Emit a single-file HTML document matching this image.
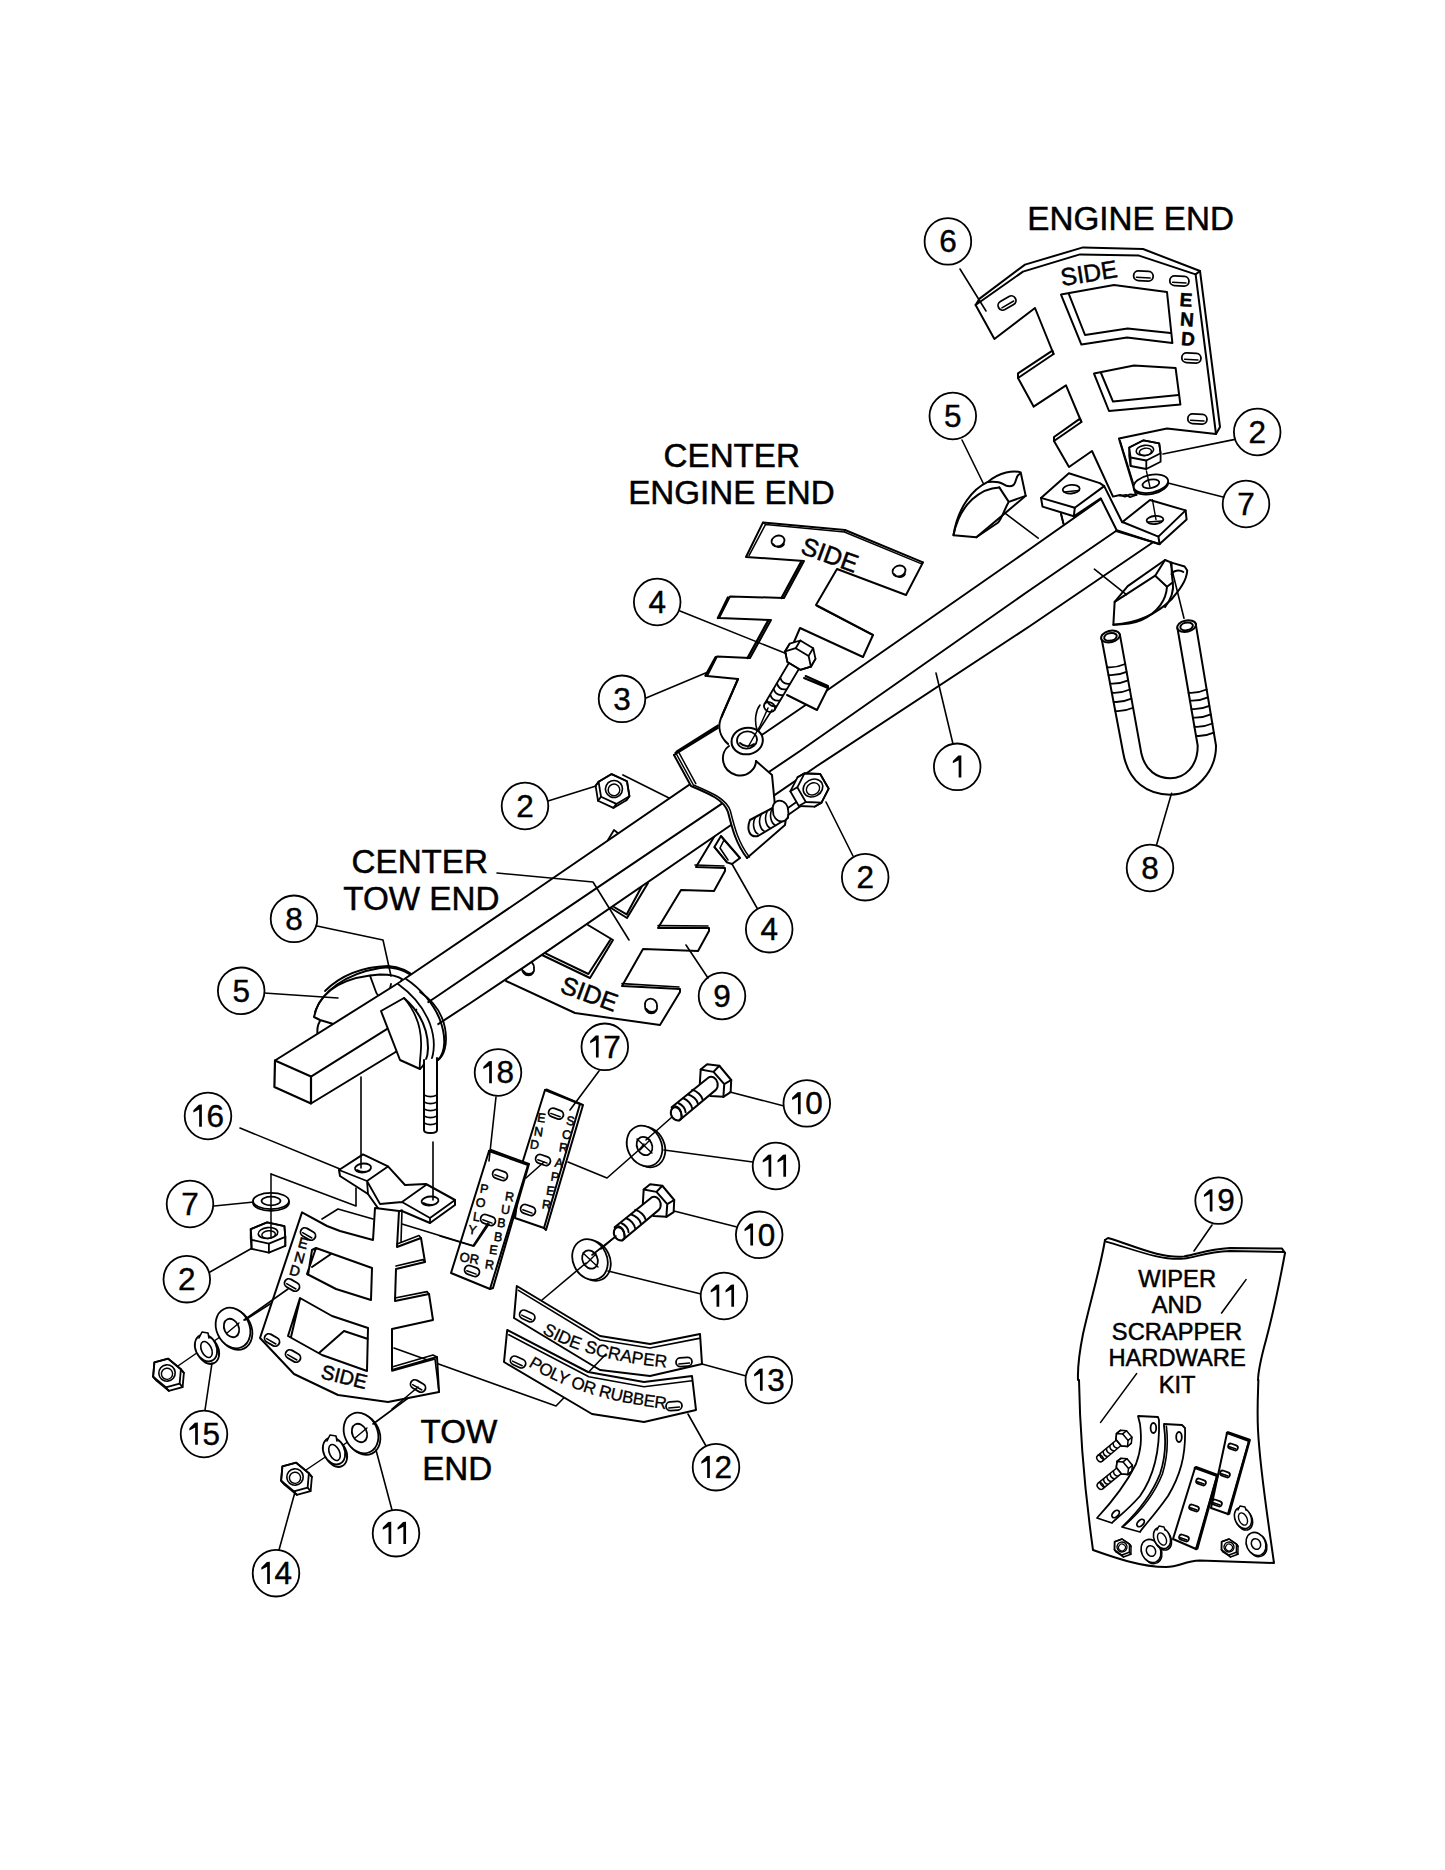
<!DOCTYPE html>
<html><head><meta charset="utf-8"><style>
html,body{margin:0;padding:0;background:#fff;}
svg{display:block;font-family:"Liberation Sans",sans-serif;}
</style></head><body>
<svg width="1445" height="1870" viewBox="0 0 1445 1870">
<path transform="translate(470 820) scale(0.200000)" d="M180,805 L525,965 L950,1025 L1050,860 L1050,845 L760,830 L865,645 L1140,655 L1195,555 L1195,540 L940,540 L1055,350 L1220,355 L1275,255 L1275,240 L1130,235 L1235,60" fill="none" stroke="#000" stroke-width="2.0" vector-effect="non-scaling-stroke" stroke-linejoin="round" stroke-linecap="round"/>
<path transform="translate(470 820) scale(0.200000)" d="M760,818 L1045,835 M940,528 L1190,530 M1125,225 L1270,230" fill="none" stroke="#000" stroke-width="1.6" vector-effect="non-scaling-stroke" stroke-linejoin="round" stroke-linecap="round"/>
<path transform="translate(470 820) scale(0.200000)" d="M360,675 L600,790 L715,600 L590,525 M380,668 L592,770 L700,602" fill="none" stroke="#000" stroke-width="2.0" vector-effect="non-scaling-stroke" stroke-linejoin="round" stroke-linecap="round"/>
<path transform="translate(470 820) scale(0.200000)" d="M705,440 L785,490 L890,315 M720,435 L783,472 L860,330" fill="none" stroke="#000" stroke-width="2.0" vector-effect="non-scaling-stroke" stroke-linejoin="round" stroke-linecap="round"/>
<path transform="translate(470 820) scale(0.200000)" d="M875,930 a30,33 -20 1,0 60,0 a30,33 -20 1,0 -60,0 M882,945 C895,965 925,965 935,945" fill="none" stroke="#000" stroke-width="1.8" vector-effect="non-scaling-stroke" stroke-linejoin="round" stroke-linecap="round"/>
<path transform="translate(470 820) scale(0.200000)" d="M260,740 a30,33 -20 1,0 60,0 a30,33 -20 1,0 -60,0 M267,755 C280,775 310,775 320,755" fill="none" stroke="#000" stroke-width="1.8" vector-effect="non-scaling-stroke" stroke-linejoin="round" stroke-linecap="round"/>
<path transform="translate(470 820) scale(0.200000)" d="M690,100 L720,50 L745,70" fill="none" stroke="#000" stroke-width="1.8" vector-effect="non-scaling-stroke" stroke-linejoin="round" stroke-linecap="round"/>
<text x="559.0" y="992.0" font-size="25" text-anchor="start" font-weight="normal" stroke="#000" stroke-width="0.5" transform="rotate(20 559.0 992.0)">SIDE</text>
<path transform="translate(200 900) scale(0.200000)" d="M570,585 C590,480 680,400 850,378 L900,372 C950,372 990,380 1010,395 L980,470 L700,630 L600,600 Z" fill="#fff" stroke="#000" stroke-width="2.0" vector-effect="non-scaling-stroke" stroke-linejoin="round" stroke-linecap="round"/>
<path transform="translate(200 900) scale(0.200000)" d="M600,605 C585,630 585,660 590,680" fill="none" stroke="#000" stroke-width="2.0" vector-effect="non-scaling-stroke" stroke-linejoin="round" stroke-linecap="round"/>
<path transform="translate(200 900) scale(0.200000)" d="M850,378 L880,460 C890,490 930,490 945,465 L955,420" fill="none" stroke="#000" stroke-width="1.8" vector-effect="non-scaling-stroke" stroke-linejoin="round" stroke-linecap="round"/>
<path transform="translate(200 900) scale(0.200000)" d="M575,560 C610,460 720,370 900,340 C1000,330 1060,370 1100,420" fill="none" stroke="#000" stroke-width="1.8" vector-effect="non-scaling-stroke" stroke-linejoin="round" stroke-linecap="round"/>
<path transform="translate(200 900) scale(0.200000)" d="M625,455 C700,380 800,335 940,330 C1000,335 1050,360 1080,390" fill="none" stroke="#000" stroke-width="1.8" vector-effect="non-scaling-stroke" stroke-linejoin="round" stroke-linecap="round"/>
<polygon points="275,1060.5 400,982 524,898 829,689 1030,549 1101,499 1152,543 1030,626 817,766 524,967.1 469.7,1003.5 394,1053 311,1103.5" fill="#fff" stroke="#000" stroke-width="0" stroke-linejoin="round" stroke-linecap="round"/>
<polyline points="275,1060.5 400,982 524,898 829,689 1030,549 1101,499" fill="none" stroke="#000" stroke-width="2.0" stroke-linejoin="round" stroke-linecap="round"/>
<polyline points="311,1076.6 385.6,1029.8 433.8,998.5 524,937.2 800,751 1030,590 1116,531" fill="none" stroke="#000" stroke-width="2.0" stroke-linejoin="round" stroke-linecap="round"/>
<polyline points="311,1103.5 394,1053 469.7,1003.5 524,967.1 817,766 1030,626 1152,543" fill="none" stroke="#000" stroke-width="2.0" stroke-linejoin="round" stroke-linecap="round"/>
<polyline points="275,1060.5 311,1076.6 311,1103.5 274.4,1087 275,1060.5" fill="none" stroke="#000" stroke-width="2.2" stroke-linejoin="round" stroke-linecap="round"/>
<polygon points="975.6,305.0 1023.0,271.6 1080.0,254.4 1139.0,255.6 1195.6,274.4 1216.0,434.0 1167.0,428.6 1119.0,438.6 1136.0,495.0 1130.0,494.4 1125.0,496.6 1120.0,495.0 1113.0,496.6 1092.0,451.0 1069.0,467.0 1054.0,441.0 1081.4,422.0 1066.0,385.4 1033.6,406.6 1018.0,378.0 1053.6,354.0 1035.0,308.0 994.4,339.0" fill="#fff" stroke="#000" stroke-width="2.0" stroke-linejoin="round" stroke-linecap="round"/>
<polyline points="975.6,305.0 979.6,298.6 1025.0,264.6 1083.0,247.4 1143.0,249.0 1200.0,271.0 1220.0,427.0 1216.0,434.0" fill="none" stroke="#000" stroke-width="2.0" stroke-linejoin="round" stroke-linecap="round"/>
<polyline points="1195.6,274.4 1200.0,271.0" fill="none" stroke="#000" stroke-width="2.0" stroke-linejoin="round" stroke-linecap="round"/>
<polyline points="1018.0,378.0 1018.0,373.4 1052.4,350.6 1053.6,354.0" fill="none" stroke="#000" stroke-width="2.0" stroke-linejoin="round" stroke-linecap="round"/>
<polyline points="1054.0,441.0 1054.0,437.0 1080.0,418.6 1081.4,422.0" fill="none" stroke="#000" stroke-width="2.0" stroke-linejoin="round" stroke-linecap="round"/>
<polygon points="1061.0,294.6 1114.0,285.0 1167.0,292.0 1172.4,343.0 1127.0,337.6 1081.4,344.6" fill="none" stroke="#000" stroke-width="2.0" stroke-linejoin="round" stroke-linecap="round"/>
<polyline points="1069.0,294.4 1085.0,335.0 1127.6,328.6 1170.6,333.0" fill="none" stroke="#000" stroke-width="2.0" stroke-linejoin="round" stroke-linecap="round"/>
<polygon points="1094.0,373.6 1134.0,365.4 1175.6,368.0 1180.4,404.6 1109.0,411.0" fill="none" stroke="#000" stroke-width="2.0" stroke-linejoin="round" stroke-linecap="round"/>
<polyline points="1101.0,373.0 1113.0,401.6 1178.6,395.0" fill="none" stroke="#000" stroke-width="2.0" stroke-linejoin="round" stroke-linecap="round"/>
<rect x="997.4" y="298.4" width="19.2" height="9.2" rx="4.6" ry="4.6" transform="rotate(-30 1007.0 303.0)" fill="none" stroke="#000" stroke-width="1.8"/>
<line x1="1001.9" y1="307.8" x2="1013.7" y2="301.0" stroke="#000" stroke-width="1.5" stroke-linecap="round"/>
<rect x="1133.6" y="271.2" width="19.6" height="9.6" rx="4.8" ry="4.8" transform="rotate(3 1143.4 276.0)" fill="none" stroke="#000" stroke-width="1.8"/>
<line x1="1136.4" y1="277.3" x2="1150.2" y2="278.0" stroke="#000" stroke-width="1.5" stroke-linecap="round"/>
<rect x="1169.8" y="276.2" width="19.2" height="9.6" rx="4.8" ry="4.8" transform="rotate(3 1179.4 281.0)" fill="none" stroke="#000" stroke-width="1.8"/>
<line x1="1172.6" y1="282.3" x2="1186.0" y2="283.0" stroke="#000" stroke-width="1.5" stroke-linecap="round"/>
<rect x="1181.8" y="353.2" width="19.2" height="9.6" rx="4.8" ry="4.8" transform="rotate(3 1191.4 358.0)" fill="none" stroke="#000" stroke-width="1.8"/>
<line x1="1184.6" y1="359.3" x2="1198.0" y2="360.0" stroke="#000" stroke-width="1.5" stroke-linecap="round"/>
<rect x="1187.8" y="414.2" width="19.2" height="9.6" rx="4.8" ry="4.8" transform="rotate(3 1197.4 419.0)" fill="none" stroke="#000" stroke-width="1.8"/>
<line x1="1190.6" y1="420.3" x2="1204.0" y2="421.0" stroke="#000" stroke-width="1.5" stroke-linecap="round"/>
<text x="1062.0" y="286.0" font-size="24.5" text-anchor="start" font-weight="normal" stroke="#000" stroke-width="0.5" transform="rotate(-9 1062.0 286.0)">SIDE</text>
<text x="1185.6" y="306.4" font-size="19" text-anchor="middle" font-weight="bold" stroke="#000" stroke-width="0.5" transform="rotate(4 1185.6 306.4)">E</text>
<text x="1186.6" y="326.0" font-size="19" text-anchor="middle" font-weight="bold" stroke="#000" stroke-width="0.5" transform="rotate(4 1186.6 326.0)">N</text>
<text x="1187.6" y="345.6" font-size="19" text-anchor="middle" font-weight="bold" stroke="#000" stroke-width="0.5" transform="rotate(4 1187.6 345.6)">D</text>
<polyline points="960.0,269.0 986.0,311.0" fill="none" stroke="#000" stroke-width="1.6" stroke-linejoin="round" stroke-linecap="round"/>
<polyline points="962.0,440.0 989.0,495.0" fill="none" stroke="#000" stroke-width="1.6" stroke-linejoin="round" stroke-linecap="round"/>
<polyline points="1163.0,454.0 1235.0,439.4" fill="none" stroke="#000" stroke-width="1.6" stroke-linejoin="round" stroke-linecap="round"/>
<polyline points="1168.0,483.0 1223.0,497.0" fill="none" stroke="#000" stroke-width="1.6" stroke-linejoin="round" stroke-linecap="round"/>
<polygon points="1041.0,497.9 1068.9,473.2 1099.8,483.1 1104.2,486.1 1074.8,507.8" fill="#fff" stroke="#000" stroke-width="2.0" stroke-linejoin="round" stroke-linecap="round"/>
<polyline points="1041.0,497.9 1042.5,506.6 1073.8,516.3 1100.8,498.4 1116.7,530.3 1159.5,544.2" fill="none" stroke="#000" stroke-width="2.0" stroke-linejoin="round" stroke-linecap="round"/>
<polyline points="1073.8,516.3 1074.8,507.8" fill="none" stroke="#000" stroke-width="2.0" stroke-linejoin="round" stroke-linecap="round"/>
<polyline points="1060.9,513.8 1063.4,523.8" fill="none" stroke="#000" stroke-width="1.8" stroke-linejoin="round" stroke-linecap="round"/>
<polyline points="1104.2,486.1 1122.2,522.3" fill="none" stroke="#000" stroke-width="2.0" stroke-linejoin="round" stroke-linecap="round"/>
<ellipse cx="1071.2" cy="489.2" rx="8.5" ry="4.3" transform="rotate(-5 1071.2 489.2)" fill="none" stroke="#000" stroke-width="1.8"/>
<line x1="1063.9" y1="491.9" x2="1078.8" y2="490.4" stroke="#000" stroke-width="1.5" stroke-linecap="round"/>
<polygon points="1122.4,522.0 1150.0,500.0 1185.6,510.4 1158.4,536.6" fill="#fff" stroke="#000" stroke-width="2.0" stroke-linejoin="round" stroke-linecap="round"/>
<polyline points="1158.4,536.6 1159.6,544.0 1186.6,519.6 1185.6,510.4" fill="none" stroke="#000" stroke-width="2.0" stroke-linejoin="round" stroke-linecap="round"/>
<polyline points="1116.0,531.0 1159.6,544.0" fill="none" stroke="#000" stroke-width="2.0" stroke-linejoin="round" stroke-linecap="round"/>
<ellipse cx="1155.0" cy="520.0" rx="8.4" ry="4.0" transform="rotate(-5 1155.0 520.0)" fill="none" stroke="#000" stroke-width="1.8"/>
<line x1="1148.0" y1="522.0" x2="1162.0" y2="521.0" stroke="#000" stroke-width="1.5" stroke-linecap="round"/>
<line x1="1152.4" y1="499.6" x2="1156.0" y2="519.6" stroke="#000" stroke-width="1.4" stroke-linecap="round"/>
<polygon points="1129.2,447.5 1143.5,440.3 1159.2,443.3 1160.6,453.3 1160.6,461.8 1146.3,469.0 1130.6,466.0 1129.2,456.0" fill="#fff" stroke="#000" stroke-width="1.8" stroke-linejoin="round" stroke-linecap="round"/>
<polygon points="1160.6,453.3 1146.3,460.5 1130.6,457.5 1129.2,447.5 1143.5,440.3 1159.2,443.3" fill="none" stroke="#000" stroke-width="1.8" stroke-linejoin="round" stroke-linecap="round"/>
<line x1="1146.3" y1="460.5" x2="1146.3" y2="469.0" stroke="#000" stroke-width="1.8" stroke-linecap="round"/>
<line x1="1130.6" y1="457.5" x2="1130.6" y2="466.0" stroke="#000" stroke-width="1.8" stroke-linecap="round"/>
<ellipse cx="1144.9" cy="450.4" rx="8.8" ry="5.1" transform="rotate(-8 1144.9 450.4)" fill="none" stroke="#000" stroke-width="1.62"/>
<ellipse cx="1145.4" cy="451.8" rx="6.1" ry="3.6" transform="rotate(-8 1145.4 451.8)" fill="none" stroke="#000" stroke-width="1.4400000000000002"/>
<ellipse cx="1150.9" cy="485.3" rx="17.5" ry="8.8" transform="rotate(-12 1150.9 485.3)" fill="#fff" stroke="#000" stroke-width="1.8"/>
<ellipse cx="1150.9" cy="483.8" rx="17.5" ry="8.8" transform="rotate(-12 1150.9 483.8)" fill="#fff" stroke="#000" stroke-width="1.8"/>
<ellipse cx="1150.9" cy="483.8" rx="8.5" ry="4.2" transform="rotate(-12 1150.9 483.8)" fill="none" stroke="#000" stroke-width="1.8"/>
<polyline points="1146.4,470.9 1149.9,486.8" fill="none" stroke="#000" stroke-width="1.4" stroke-linejoin="round" stroke-linecap="round"/>
<polyline points="1120.0,441.0 1133.0,482.8" fill="none" stroke="#000" stroke-width="1.8" stroke-linejoin="round" stroke-linecap="round"/>
<polyline points="1120.0,495.8 1126.0,494.8 1130.0,497.3 1136.9,494.8" fill="none" stroke="#000" stroke-width="1.6" stroke-linejoin="round" stroke-linecap="round"/>
<path transform="translate(940 455) scale(0.099651)" d="M135,805 L365,825 L860,410 L810,175 C740,150 600,170 480,270 C330,340 180,520 135,805 Z" fill="#fff" stroke="#000" stroke-width="2.0" vector-effect="non-scaling-stroke" stroke-linejoin="round" stroke-linecap="round"/>
<path transform="translate(940 455) scale(0.099651)" d="M595,325 C420,330 200,480 135,805" fill="none" stroke="#000" stroke-width="2.0" vector-effect="non-scaling-stroke" stroke-linejoin="round" stroke-linecap="round"/>
<path transform="translate(940 455) scale(0.099651)" d="M595,325 L690,470 L860,410 M690,470 C640,560 620,640 580,680 L365,825" fill="none" stroke="#000" stroke-width="2.0" vector-effect="non-scaling-stroke" stroke-linejoin="round" stroke-linecap="round"/>
<path transform="translate(940 455) scale(0.099651)" d="M480,270 C540,265 600,270 630,290 C660,310 700,330 740,300 C770,270 760,200 800,190" fill="none" stroke="#000" stroke-width="2.0" vector-effect="non-scaling-stroke" stroke-linejoin="round" stroke-linecap="round"/>
<path transform="translate(940 455) scale(0.099651)" d="M655,585 L985,835" fill="none" stroke="#000" stroke-width="1.6" vector-effect="non-scaling-stroke" stroke-linejoin="round" stroke-linecap="round"/>
<path transform="translate(940 455) scale(0.099651)" d="M1215,590 L1240,690" fill="none" stroke="#000" stroke-width="1.8" vector-effect="non-scaling-stroke" stroke-linejoin="round" stroke-linecap="round"/>
<path transform="translate(1080 560) scale(0.130796)" d="M255,495 L265,320 L365,200 L650,0 L700,20 L800,50 L820,80 C815,160 760,230 700,300 C620,380 480,480 255,495 Z" fill="#fff" stroke="#000" stroke-width="2.0" vector-effect="non-scaling-stroke" stroke-linejoin="round" stroke-linecap="round"/>
<path transform="translate(1080 560) scale(0.130796)" d="M265,320 L575,120 L665,205 C660,300 600,400 470,460 C400,490 320,495 255,495" fill="none" stroke="#000" stroke-width="2.0" vector-effect="non-scaling-stroke" stroke-linejoin="round" stroke-linecap="round"/>
<path transform="translate(1080 560) scale(0.130796)" d="M575,120 L650,0 M665,205 L710,170 C700,120 700,60 700,20 M710,170 C720,250 690,310 650,360" fill="none" stroke="#000" stroke-width="2.0" vector-effect="non-scaling-stroke" stroke-linejoin="round" stroke-linecap="round"/>
<path transform="translate(1080 560) scale(0.130796)" d="M700,110 C710,80 760,70 790,92" fill="none" stroke="#000" stroke-width="2.0" vector-effect="non-scaling-stroke" stroke-linejoin="round" stroke-linecap="round"/>
<path transform="translate(1080 560) scale(0.130796)" d="M110,70 L355,265" fill="none" stroke="#000" stroke-width="1.6" vector-effect="non-scaling-stroke" stroke-linejoin="round" stroke-linecap="round"/>
<path transform="translate(1080 560) scale(0.130796)" d="M690,20 L795,445" fill="none" stroke="#000" stroke-width="1.6" vector-effect="non-scaling-stroke" stroke-linejoin="round" stroke-linecap="round"/>
<path transform="translate(1080 560) scale(0.130796)" d="M165,600 L330,1474 C370,1700 520,1794 690,1794 C880,1794 1040,1620 1040,1420 L885,490" fill="none" stroke="#000" stroke-width="2.0" vector-effect="non-scaling-stroke" stroke-linejoin="round" stroke-linecap="round"/>
<path transform="translate(1080 560) scale(0.130796)" d="M305,570 L470,1484 C500,1610 590,1669 690,1669 C800,1669 900,1580 900,1420 L745,520" fill="none" stroke="#000" stroke-width="2.0" vector-effect="non-scaling-stroke" stroke-linejoin="round" stroke-linecap="round"/>
<path transform="translate(1080 560) scale(0.130796)" d="M163,585 a70,42 -12 1,0 140,0 a70,42 -12 1,0 -140,0 Z" fill="#fff" stroke="#000" stroke-width="2.0" vector-effect="non-scaling-stroke" stroke-linejoin="round" stroke-linecap="round"/>
<path transform="translate(1080 560) scale(0.130796)" d="M186,588 a47,28 -12 1,0 94,0 a47,28 -12 1,0 -94,0 Z" fill="none" stroke="#000" stroke-width="2.0" vector-effect="non-scaling-stroke" stroke-linejoin="round" stroke-linecap="round"/>
<path transform="translate(1080 560) scale(0.130796)" d="M745,505 a70,42 -12 1,0 140,0 a70,42 -12 1,0 -140,0 Z" fill="#fff" stroke="#000" stroke-width="2.0" vector-effect="non-scaling-stroke" stroke-linejoin="round" stroke-linecap="round"/>
<path transform="translate(1080 560) scale(0.130796)" d="M768,508 a47,28 -12 1,0 94,0 a47,28 -12 1,0 -94,0 Z" fill="none" stroke="#000" stroke-width="2.0" vector-effect="non-scaling-stroke" stroke-linejoin="round" stroke-linecap="round"/>
<path transform="translate(1080 560) scale(0.130796)" d="M207,820 Q276,825 346,795 M218,880 Q287,885 356,855 M230,945 Q299,950 368,920 M243,1015 Q312,1020 381,990 M257,1085 Q325,1090 393,1060 M270,1155 Q338,1160 406,1130 M830,1015 Q899,1020 968,990 M841,1075 Q909,1080 978,1050 M852,1140 Q920,1145 989,1115 M863,1205 Q931,1210 1000,1180 M875,1275 Q943,1280 1012,1250 M887,1345 Q955,1350 1023,1320 " fill="none" stroke="#000" stroke-width="1.8" vector-effect="non-scaling-stroke" stroke-linejoin="round" stroke-linecap="round"/>
<path transform="translate(1080 690) scale(0.130796)" d="M585,1185 L700,790" fill="none" stroke="#000" stroke-width="1.6" vector-effect="non-scaling-stroke" stroke-linejoin="round" stroke-linecap="round"/>
<path transform="translate(580 700) scale(0.200000)" d="M215,375 L445,490" fill="none" stroke="#000" stroke-width="1.8" vector-effect="non-scaling-stroke" stroke-linejoin="round" stroke-linecap="round"/>
<polygon points="595.6,785.8 598.6,781.8 611.6,774.1 627.0,781.3 629.4,796.2 626.4,800.2 613.4,807.9 598.0,800.7" fill="#fff" stroke="#000" stroke-width="1.8" stroke-linejoin="round" stroke-linecap="round"/>
<polygon points="629.4,796.2 616.4,803.9 601.0,796.7 598.6,781.8 611.6,774.1 627.0,781.3" fill="none" stroke="#000" stroke-width="1.8" stroke-linejoin="round" stroke-linecap="round"/>
<line x1="629.4" y1="796.2" x2="626.4" y2="800.2" stroke="#000" stroke-width="1.8" stroke-linecap="round"/>
<line x1="616.4" y1="803.9" x2="613.4" y2="807.9" stroke="#000" stroke-width="1.8" stroke-linecap="round"/>
<line x1="601.0" y1="796.7" x2="598.0" y2="800.7" stroke="#000" stroke-width="1.8" stroke-linecap="round"/>
<line x1="598.6" y1="781.8" x2="595.6" y2="785.8" stroke="#000" stroke-width="1.8" stroke-linecap="round"/>
<ellipse cx="614" cy="789" rx="8.5" ry="8.5" transform="rotate(25 614 789)" fill="none" stroke="#000" stroke-width="1.62"/>
<ellipse cx="614" cy="789.9" rx="5.8" ry="5.8" transform="rotate(25 614 789.9)" fill="none" stroke="#000" stroke-width="1.4400000000000002"/>
<polyline points="548,801 596,786" fill="none" stroke="#000" stroke-width="1.6" stroke-linejoin="round" stroke-linecap="round"/>
<path transform="translate(680 510) scale(0.200000)" d="M330,235 L415,62 L825,100 L1215,262 L1130,425 L785,295 L680,475 L965,625 L915,735 L600,590 L570,660 M330,235 L620,255 L520,440 L250,432 L195,540 L455,550 L350,740 L185,732 L135,830 L290,845 L205,1040 C190,1080 195,1130 240,1170" fill="none" stroke="#000" stroke-width="2.0" vector-effect="non-scaling-stroke" stroke-linejoin="round" stroke-linecap="round"/>
<path transform="translate(680 510) scale(0.200000)" d="M345,228 L428,72 L822,110 L1205,268 M415,62 L428,72 M825,100 L822,110 M1215,262 L1205,268" fill="none" stroke="#000" stroke-width="1.5" vector-effect="non-scaling-stroke" stroke-linejoin="round" stroke-linecap="round"/>
<path transform="translate(680 510) scale(0.200000)" d="M605,262 L508,440 M440,555 L338,740 M240,438 L190,540 M178,737 L128,828" fill="none" stroke="#000" stroke-width="2.5" vector-effect="non-scaling-stroke" stroke-linejoin="round" stroke-linecap="round"/>
<path transform="translate(680 510) scale(0.200000)" d="M620,840 L740,890 L685,1000 L535,925 Z" fill="#fff" stroke="#000" stroke-width="0" vector-effect="non-scaling-stroke" stroke-linejoin="round" stroke-linecap="round"/>
<path transform="translate(680 510) scale(0.200000)" d="M620,840 L740,890 L685,1000 L535,925 M628,830 L740,880 L740,890" fill="none" stroke="#000" stroke-width="2.0" vector-effect="non-scaling-stroke" stroke-linejoin="round" stroke-linecap="round"/>
<path transform="translate(680 510) scale(0.200000)" d="M685,480 L955,620 L965,625" fill="none" stroke="#000" stroke-width="1.5" vector-effect="non-scaling-stroke" stroke-linejoin="round" stroke-linecap="round"/>
<path transform="translate(680 510) scale(0.200000)" d="M458,155 a32,26 -20 1,0 64,0 a32,26 -20 1,0 -64,0 Z M465,170 C480,190 510,190 520,170" fill="none" stroke="#000" stroke-width="1.8" vector-effect="non-scaling-stroke" stroke-linejoin="round" stroke-linecap="round"/>
<path transform="translate(680 510) scale(0.200000)" d="M1063,305 a32,26 -20 1,0 64,0 a32,26 -20 1,0 -64,0 Z M1070,320 C1085,340 1115,340 1125,320" fill="none" stroke="#000" stroke-width="1.8" vector-effect="non-scaling-stroke" stroke-linejoin="round" stroke-linecap="round"/>
<text x="799.6" y="553.0" font-size="25" text-anchor="start" font-weight="normal" stroke="#000" stroke-width="0.5" transform="rotate(20 799.6 553.0)">SIDE</text>
<polygon points="792.0,657.8 764.5,704.0 774.5,710.0 802.0,663.7" fill="#fff" stroke="#000" stroke-width="1.8" stroke-linejoin="round" stroke-linecap="round"/>
<ellipse cx="769.5" cy="707" rx="5.8" ry="4.6" transform="rotate(-149.3002774491856 769.5 707)" fill="#fff" stroke="#000" stroke-width="1.8"/>
<path d="M780.2,677.6 Q782.5,685.1 790.2,683.6" fill="none" stroke="#000" stroke-width="1.8"/>
<path d="M776.9,683.2 Q779.2,690.7 786.8,689.2" fill="none" stroke="#000" stroke-width="1.8"/>
<path d="M773.5,688.8 Q775.9,696.3 783.5,694.8" fill="none" stroke="#000" stroke-width="1.8"/>
<path d="M770.2,694.4 Q772.5,701.9 780.2,700.4" fill="none" stroke="#000" stroke-width="1.8"/>
<path d="M766.9,700.0 Q769.2,707.5 776.9,706.0" fill="none" stroke="#000" stroke-width="1.8"/>
<polygon points="785.1,651.3 789.7,643.6 800.3,640.5 813.2,648.2 815.5,658.9 810.9,666.7 800.3,669.8 787.4,662.1" fill="#fff" stroke="#000" stroke-width="1.8" stroke-linejoin="round" stroke-linecap="round"/>
<polygon points="785.1,651.3 795.7,648.2 808.6,655.9 810.9,666.7 800.3,669.8 787.4,662.1" fill="none" stroke="#000" stroke-width="1.8" stroke-linejoin="round" stroke-linecap="round"/>
<line x1="785.1" y1="651.3" x2="789.7" y2="643.6" stroke="#000" stroke-width="1.8" stroke-linecap="round"/>
<line x1="795.7" y1="648.2" x2="800.3" y2="640.5" stroke="#000" stroke-width="1.8" stroke-linecap="round"/>
<line x1="808.6" y1="655.9" x2="813.2" y2="648.2" stroke="#000" stroke-width="1.8" stroke-linecap="round"/>
<line x1="810.9" y1="666.7" x2="815.5" y2="658.9" stroke="#000" stroke-width="1.8" stroke-linecap="round"/>
<path transform="translate(680 510) scale(0.200000)" d="M460,1000 L340,1185 M400,975 C380,1000 370,1050 385,1100" fill="none" stroke="#000" stroke-width="1.6" vector-effect="non-scaling-stroke" stroke-linejoin="round" stroke-linecap="round"/>
<path transform="translate(680 510) scale(0.200000)" d="M0,505 L530,718" fill="none" stroke="#000" stroke-width="1.6" vector-effect="non-scaling-stroke" stroke-linejoin="round" stroke-linecap="round"/>
<path transform="translate(680 510) scale(0.200000)" d="M1280,815 L1365,1170" fill="none" stroke="#000" stroke-width="1.6" vector-effect="non-scaling-stroke" stroke-linejoin="round" stroke-linecap="round"/>
<path transform="translate(580 700) scale(0.200000)" d="M470,275 L555,430 C650,470 720,500 740,560 C760,640 780,720 835,790 L1025,625 L1030,590 L975,530 L960,375 L880,305 L745,230 L700,60 L690,140 Z" fill="#fff" stroke="#000" stroke-width="0" vector-effect="non-scaling-stroke" stroke-linejoin="round" stroke-linecap="round"/>
<path transform="translate(580 700) scale(0.200000)" d="M470,275 L555,430 C650,470 720,500 740,560 C760,640 780,720 835,790" fill="none" stroke="#000" stroke-width="2.0" vector-effect="non-scaling-stroke" stroke-linejoin="round" stroke-linecap="round"/>
<path transform="translate(580 700) scale(0.200000)" d="M482,270 L567,425 C662,465 732,495 752,555 C772,635 792,715 847,785" fill="none" stroke="#000" stroke-width="1.5" vector-effect="non-scaling-stroke" stroke-linejoin="round" stroke-linecap="round"/>
<path transform="translate(580 700) scale(0.200000)" d="M494,262 L579,418" fill="none" stroke="#000" stroke-width="1.5" vector-effect="non-scaling-stroke" stroke-linejoin="round" stroke-linecap="round"/>
<path transform="translate(580 700) scale(0.200000)" d="M470,275 L690,140 M476,265 L690,133 M482,257 L690,126" fill="none" stroke="#000" stroke-width="1.8" vector-effect="non-scaling-stroke" stroke-linejoin="round" stroke-linecap="round"/>
<path transform="translate(580 700) scale(0.200000)" d="M880,305 L960,375 L975,530" fill="none" stroke="#000" stroke-width="2.0" vector-effect="non-scaling-stroke" stroke-linejoin="round" stroke-linecap="round"/>
<path transform="translate(580 700) scale(0.200000)" d="M835,790 L1025,625 L1030,590" fill="none" stroke="#000" stroke-width="2.0" vector-effect="non-scaling-stroke" stroke-linejoin="round" stroke-linecap="round"/>
<path transform="translate(580 700) scale(0.200000)" d="M672,735 L705,680 L800,790 L760,820 L735,812 Z" fill="#fff" stroke="#000" stroke-width="2.0" vector-effect="non-scaling-stroke" stroke-linejoin="round" stroke-linecap="round"/>
<path transform="translate(580 700) scale(0.200000)" d="M672,735 L735,812 M705,680 L720,700 L800,790 M720,700 L700,740 L740,800" fill="none" stroke="#000" stroke-width="1.6" vector-effect="non-scaling-stroke" stroke-linejoin="round" stroke-linecap="round"/>
<path transform="translate(580 700) scale(0.200000)" d="M745,230 C700,260 700,350 780,375 C840,390 880,340 880,305" fill="#fff" stroke="#000" stroke-width="2.0" vector-effect="non-scaling-stroke" stroke-linejoin="round" stroke-linecap="round"/>
<path transform="translate(580 700) scale(0.200000)" d="M758,205 a78,66 -10 1,0 156,0 a78,66 -10 1,0 -156,0 Z" fill="#fff" stroke="#000" stroke-width="2.0" vector-effect="non-scaling-stroke" stroke-linejoin="round" stroke-linecap="round"/>
<path transform="translate(580 700) scale(0.200000)" d="M785,200 a50,43 -10 1,0 100,0 a50,43 -10 1,0 -100,0 Z M800,215 C820,235 850,235 870,220" fill="none" stroke="#000" stroke-width="1.8" vector-effect="non-scaling-stroke" stroke-linejoin="round" stroke-linecap="round"/>
<path transform="translate(580 700) scale(0.200000)" d="M840,235 L900,130 L940,40" fill="none" stroke="#000" stroke-width="1.5" vector-effect="non-scaling-stroke" stroke-linejoin="round" stroke-linecap="round"/>
<path transform="translate(580 700) scale(0.200000)" d="M850,600 L990,525 L1030,560 L1040,590 L890,680 C850,690 830,650 850,600 Z" fill="#fff" stroke="#000" stroke-width="2.0" vector-effect="non-scaling-stroke" stroke-linejoin="round" stroke-linecap="round"/>
<path transform="translate(580 700) scale(0.200000)" d="M965,555 a38,45 -20 1,0 76,0 a38,45 -20 1,0 -76,0 Z" fill="#fff" stroke="#000" stroke-width="1.8" vector-effect="non-scaling-stroke" stroke-linejoin="round" stroke-linecap="round"/>
<path transform="translate(580 700) scale(0.200000)" d="M875,590 C860,620 870,660 890,670 M905,575 C890,605 900,645 920,655 M935,560 C920,590 930,630 950,640 M960,545 C945,575 955,615 975,625" fill="none" stroke="#000" stroke-width="1.6" vector-effect="non-scaling-stroke" stroke-linejoin="round" stroke-linecap="round"/>
<path transform="translate(580 700) scale(0.200000)" d="M1040,540 L1110,490 M1040,575 L1115,522" fill="none" stroke="#000" stroke-width="1.8" vector-effect="non-scaling-stroke" stroke-linejoin="round" stroke-linecap="round"/>
<polygon points="790.3,791.3 797.5,777.3 804.5,773.3 820.2,774.0 828.7,788.7 821.5,802.7 814.5,806.7 798.8,806.0" fill="#fff" stroke="#000" stroke-width="1.8" stroke-linejoin="round" stroke-linecap="round"/>
<polygon points="821.5,802.7 805.8,802.0 797.3,787.3 804.5,773.3 820.2,774.0 828.7,788.7" fill="none" stroke="#000" stroke-width="1.8" stroke-linejoin="round" stroke-linecap="round"/>
<line x1="821.5" y1="802.7" x2="814.5" y2="806.7" stroke="#000" stroke-width="1.8" stroke-linecap="round"/>
<line x1="805.8" y1="802.0" x2="798.8" y2="806.0" stroke="#000" stroke-width="1.8" stroke-linecap="round"/>
<line x1="797.3" y1="787.3" x2="790.3" y2="791.3" stroke="#000" stroke-width="1.8" stroke-linecap="round"/>
<line x1="804.5" y1="773.3" x2="797.5" y2="777.3" stroke="#000" stroke-width="1.8" stroke-linecap="round"/>
<ellipse cx="813.0" cy="788.0" rx="8.5" ry="10.2" transform="rotate(60 813.0 788.0)" fill="none" stroke="#000" stroke-width="1.62"/>
<ellipse cx="813.0" cy="788.9" rx="5.8" ry="6.9" transform="rotate(60 813.0 788.9)" fill="none" stroke="#000" stroke-width="1.4400000000000002"/>
<path transform="translate(580 700) scale(0.200000)" d="M1230,510 L1365,780 M760,820 L885,1040" fill="none" stroke="#000" stroke-width="1.6" vector-effect="non-scaling-stroke" stroke-linejoin="round" stroke-linecap="round"/>
<path transform="translate(680 510) scale(0.200000)" d="M290,845 L205,1040 C190,1080 195,1130 240,1170" fill="none" stroke="#000" stroke-width="2.0" vector-effect="non-scaling-stroke" stroke-linejoin="round" stroke-linecap="round"/>
<path transform="translate(1040 1150) scale(0.200000)" d="M325,450 L340,440 C450,470 600,545 720,532 C790,522 830,497 950,490 L1210,493 L1225,515" fill="none" stroke="#000" stroke-width="2.0" vector-effect="non-scaling-stroke" stroke-linejoin="round" stroke-linecap="round"/>
<path transform="translate(1040 1150) scale(0.200000)" d="M330,458 C450,490 600,555 720,543 C790,533 830,510 950,505 L1222,510" fill="none" stroke="#000" stroke-width="1.8" vector-effect="non-scaling-stroke" stroke-linejoin="round" stroke-linecap="round"/>
<path transform="translate(1040 1150) scale(0.200000)" d="M325,450 C300,600 250,760 215,920 C195,1020 188,1100 190,1150" fill="none" stroke="#000" stroke-width="2.0" vector-effect="non-scaling-stroke" stroke-linejoin="round" stroke-linecap="round"/>
<path transform="translate(1040 1150) scale(0.200000)" d="M1225,515 C1200,650 1170,800 1130,950 C1105,1040 1092,1100 1090,1150" fill="none" stroke="#000" stroke-width="2.0" vector-effect="non-scaling-stroke" stroke-linejoin="round" stroke-linecap="round"/>
<path transform="translate(1040 1150) scale(0.200000)" d="M860,375 L770,505 M1030,648 L908,815 M483,1118 L303,1362" fill="none" stroke="#000" stroke-width="1.6" vector-effect="non-scaling-stroke" stroke-linejoin="round" stroke-linecap="round"/>
<path transform="translate(1060 1380) scale(0.200000)" d="M95,0 C100,300 130,600 165,850 C250,880 400,935 530,935 C600,935 620,905 700,903 L1070,915 C1040,700 1000,450 990,250 C985,150 990,60 992,0" fill="none" stroke="#000" stroke-width="2.0" vector-effect="non-scaling-stroke" stroke-linejoin="round" stroke-linecap="round"/>
<path transform="translate(1060 1380) scale(0.200000)" d="M390,180 L490,185 L495,200 C500,350 470,480 400,580 C330,660 270,700 260,715 L185,690 C250,620 330,520 380,420 C405,350 410,300 400,220 Z" fill="#fff" stroke="#000" stroke-width="1.8" vector-effect="non-scaling-stroke" stroke-linejoin="round" stroke-linecap="round"/>
<path transform="translate(1060 1380) scale(0.200000)" d="M520,220 L610,225 L625,240 C630,380 600,480 540,580 C470,680 410,740 400,760 L310,735 C400,650 460,570 500,470 C530,380 530,300 520,230 Z" fill="#fff" stroke="#000" stroke-width="1.8" vector-effect="non-scaling-stroke" stroke-linejoin="round" stroke-linecap="round"/>
<path transform="translate(1060 1380) scale(0.200000)" d="M532,232 C540,300 540,380 512,470 C472,570 412,650 322,728" fill="none" stroke="#000" stroke-width="1.6" vector-effect="non-scaling-stroke" stroke-linejoin="round" stroke-linecap="round"/>
<ellipse cx="1153.4" cy="1428.0" rx="2.8" ry="5.0" transform="rotate(0 1153.4 1428.0)" fill="none" stroke="#000" stroke-width="1.8"/>
<ellipse cx="1179.0" cy="1437.0" rx="2.8" ry="5.0" transform="rotate(0 1179.0 1437.0)" fill="none" stroke="#000" stroke-width="1.8"/>
<ellipse cx="1115.6" cy="1514.0" rx="4.4" ry="2.8" transform="rotate(-45 1115.6 1514.0)" fill="none" stroke="#000" stroke-width="1.8"/>
<ellipse cx="1140.6" cy="1523.0" rx="4.4" ry="2.8" transform="rotate(-45 1140.6 1523.0)" fill="none" stroke="#000" stroke-width="1.8"/>
<path transform="translate(1060 1380) scale(0.200000)" d="M835,265 L945,305 L840,670 L755,640 Z" fill="#fff" stroke="#000" stroke-width="2.0" vector-effect="non-scaling-stroke" stroke-linejoin="round" stroke-linecap="round"/>
<path transform="translate(1060 1380) scale(0.200000)" d="M835,265 L840,262 L948,300 L945,305 M948,300 L845,668 L840,670" fill="none" stroke="#000" stroke-width="2.6" vector-effect="non-scaling-stroke" stroke-linejoin="round" stroke-linecap="round"/>
<path transform="translate(1060 1380) scale(0.200000)" d="M675,440 L785,480 L680,845 L565,795 Z" fill="#fff" stroke="#000" stroke-width="2.0" vector-effect="non-scaling-stroke" stroke-linejoin="round" stroke-linecap="round"/>
<path transform="translate(1060 1380) scale(0.200000)" d="M675,440 L680,436 L788,476 L785,480 M788,476 L686,842 L680,845" fill="none" stroke="#000" stroke-width="2.6" vector-effect="non-scaling-stroke" stroke-linejoin="round" stroke-linecap="round"/>
<rect x="1228.0" y="1444.4" width="10.0" height="5.2" rx="2.6" ry="2.6" transform="rotate(20 1233.0 1447.0)" fill="none" stroke="#000" stroke-width="1.8"/>
<line x1="1229.5" y1="1446.7" x2="1235.9" y2="1449.0" stroke="#000" stroke-width="1.5" stroke-linecap="round"/>
<rect x="1220.0" y="1471.4" width="10.0" height="5.2" rx="2.6" ry="2.6" transform="rotate(20 1225.0 1474.0)" fill="none" stroke="#000" stroke-width="1.8"/>
<line x1="1221.5" y1="1473.7" x2="1227.9" y2="1476.0" stroke="#000" stroke-width="1.5" stroke-linecap="round"/>
<rect x="1212.0" y="1500.4" width="10.0" height="5.2" rx="2.6" ry="2.6" transform="rotate(20 1217.0 1503.0)" fill="none" stroke="#000" stroke-width="1.8"/>
<line x1="1213.5" y1="1502.7" x2="1219.9" y2="1505.0" stroke="#000" stroke-width="1.5" stroke-linecap="round"/>
<rect x="1196.0" y="1479.4" width="10.0" height="5.2" rx="2.6" ry="2.6" transform="rotate(20 1201.0 1482.0)" fill="none" stroke="#000" stroke-width="1.8"/>
<line x1="1197.5" y1="1481.7" x2="1203.9" y2="1484.0" stroke="#000" stroke-width="1.5" stroke-linecap="round"/>
<rect x="1189.0" y="1505.4" width="10.0" height="5.2" rx="2.6" ry="2.6" transform="rotate(20 1194.0 1508.0)" fill="none" stroke="#000" stroke-width="1.8"/>
<line x1="1190.5" y1="1507.7" x2="1196.9" y2="1510.0" stroke="#000" stroke-width="1.5" stroke-linecap="round"/>
<rect x="1179.0" y="1535.4" width="10.0" height="5.2" rx="2.6" ry="2.6" transform="rotate(20 1184.0 1538.0)" fill="none" stroke="#000" stroke-width="1.8"/>
<line x1="1180.5" y1="1537.7" x2="1186.9" y2="1540.0" stroke="#000" stroke-width="1.5" stroke-linecap="round"/>
<polygon points="1118.2,1438.5 1097.7,1455.6 1102.3,1461.2 1122.8,1444.0" fill="#fff" stroke="#000" stroke-width="1.5" stroke-linejoin="round" stroke-linecap="round"/>
<ellipse cx="1100.0" cy="1458.4" rx="3.6" ry="2.9" transform="rotate(-129.90788487550117 1100.0 1458.4)" fill="#fff" stroke="#000" stroke-width="1.5"/>
<path d="M1113.1,1442.8 Q1112.9,1447.6 1117.7,1448.3" fill="none" stroke="#000" stroke-width="1.5"/>
<path d="M1109.8,1445.5 Q1109.6,1450.4 1114.4,1451.0" fill="none" stroke="#000" stroke-width="1.5"/>
<path d="M1106.5,1448.3 Q1106.3,1453.1 1111.1,1453.8" fill="none" stroke="#000" stroke-width="1.5"/>
<path d="M1103.2,1451.0 Q1103.0,1455.9 1107.8,1456.6" fill="none" stroke="#000" stroke-width="1.5"/>
<path d="M1099.9,1453.8 Q1099.7,1458.6 1104.5,1459.3" fill="none" stroke="#000" stroke-width="1.5"/>
<polygon points="1115.9,1439.6 1116.5,1433.5 1120.4,1430.3 1126.5,1430.7 1132.0,1437.2 1131.3,1443.3 1127.5,1446.5 1121.3,1446.1" fill="#fff" stroke="#000" stroke-width="1.5" stroke-linejoin="round" stroke-linecap="round"/>
<polygon points="1116.5,1433.5 1122.7,1433.9 1128.1,1440.4 1127.5,1446.5 1121.3,1446.1 1115.9,1439.6" fill="none" stroke="#000" stroke-width="1.5" stroke-linejoin="round" stroke-linecap="round"/>
<line x1="1116.5" y1="1433.5" x2="1120.4" y2="1430.3" stroke="#000" stroke-width="1.5" stroke-linecap="round"/>
<line x1="1122.7" y1="1433.9" x2="1126.5" y2="1430.7" stroke="#000" stroke-width="1.5" stroke-linecap="round"/>
<line x1="1128.1" y1="1440.4" x2="1131.9" y2="1437.2" stroke="#000" stroke-width="1.5" stroke-linecap="round"/>
<line x1="1127.5" y1="1446.5" x2="1131.3" y2="1443.3" stroke="#000" stroke-width="1.5" stroke-linecap="round"/>
<polygon points="1118.6,1466.5 1098.1,1483.2 1102.7,1488.8 1123.1,1472.1" fill="#fff" stroke="#000" stroke-width="1.5" stroke-linejoin="round" stroke-linecap="round"/>
<ellipse cx="1100.4" cy="1486.0" rx="3.6" ry="2.9" transform="rotate(-129.28940686250036 1100.4 1486.0)" fill="#fff" stroke="#000" stroke-width="1.5"/>
<path d="M1113.5,1470.6 Q1113.3,1475.5 1118.1,1476.2" fill="none" stroke="#000" stroke-width="1.5"/>
<path d="M1110.2,1473.3 Q1110.0,1478.1 1114.8,1478.9" fill="none" stroke="#000" stroke-width="1.5"/>
<path d="M1106.9,1476.0 Q1106.7,1480.8 1111.5,1481.6" fill="none" stroke="#000" stroke-width="1.5"/>
<path d="M1103.6,1478.7 Q1103.4,1483.5 1108.2,1484.3" fill="none" stroke="#000" stroke-width="1.5"/>
<path d="M1100.3,1481.4 Q1100.1,1486.2 1104.9,1487.0" fill="none" stroke="#000" stroke-width="1.5"/>
<polygon points="1116.3,1467.5 1117.0,1461.4 1120.9,1458.3 1127.0,1458.7 1132.4,1465.3 1131.7,1471.4 1127.8,1474.6 1121.7,1474.1" fill="#fff" stroke="#000" stroke-width="1.5" stroke-linejoin="round" stroke-linecap="round"/>
<polygon points="1117.0,1461.4 1123.1,1461.9 1128.5,1468.5 1127.8,1474.6 1121.7,1474.1 1116.3,1467.5" fill="none" stroke="#000" stroke-width="1.5" stroke-linejoin="round" stroke-linecap="round"/>
<line x1="1117.0" y1="1461.4" x2="1120.9" y2="1458.3" stroke="#000" stroke-width="1.5" stroke-linecap="round"/>
<line x1="1123.1" y1="1461.9" x2="1127.0" y2="1458.7" stroke="#000" stroke-width="1.5" stroke-linecap="round"/>
<line x1="1128.5" y1="1468.5" x2="1132.4" y2="1465.3" stroke="#000" stroke-width="1.5" stroke-linecap="round"/>
<line x1="1127.8" y1="1474.6" x2="1131.7" y2="1471.4" stroke="#000" stroke-width="1.5" stroke-linecap="round"/>
<polygon points="1114.5,1549.8 1114.6,1541.8 1122.1,1539.0 1129.5,1544.2 1131.0,1546.2 1130.9,1554.2 1123.4,1557.0 1116.0,1551.8" fill="#fff" stroke="#000" stroke-width="1.5" stroke-linejoin="round" stroke-linecap="round"/>
<polygon points="1129.4,1552.2 1121.9,1555.0 1114.5,1549.8 1114.6,1541.8 1122.1,1539.0 1129.5,1544.2" fill="none" stroke="#000" stroke-width="1.5" stroke-linejoin="round" stroke-linecap="round"/>
<line x1="1129.4" y1="1552.2" x2="1130.9" y2="1554.2" stroke="#000" stroke-width="1.5" stroke-linecap="round"/>
<line x1="1121.9" y1="1555.0" x2="1123.4" y2="1557.0" stroke="#000" stroke-width="1.5" stroke-linecap="round"/>
<line x1="1114.5" y1="1549.8" x2="1116.0" y2="1551.8" stroke="#000" stroke-width="1.5" stroke-linecap="round"/>
<line x1="1129.5" y1="1544.2" x2="1131.0" y2="1546.2" stroke="#000" stroke-width="1.5" stroke-linecap="round"/>
<ellipse cx="1122.0" cy="1547.0" rx="5.0" ry="5.0" transform="rotate(35 1122.0 1547.0)" fill="none" stroke="#000" stroke-width="1.35"/>
<ellipse cx="1122.0" cy="1547.5" rx="3.4" ry="3.4" transform="rotate(35 1122.0 1547.5)" fill="none" stroke="#000" stroke-width="1.2000000000000002"/>
<polygon points="1221.5,1549.8 1221.6,1541.8 1229.1,1539.0 1236.5,1544.2 1238.0,1546.2 1237.9,1554.2 1230.4,1557.0 1223.0,1551.8" fill="#fff" stroke="#000" stroke-width="1.5" stroke-linejoin="round" stroke-linecap="round"/>
<polygon points="1236.4,1552.2 1228.9,1555.0 1221.5,1549.8 1221.6,1541.8 1229.1,1539.0 1236.5,1544.2" fill="none" stroke="#000" stroke-width="1.5" stroke-linejoin="round" stroke-linecap="round"/>
<line x1="1236.4" y1="1552.2" x2="1237.9" y2="1554.2" stroke="#000" stroke-width="1.5" stroke-linecap="round"/>
<line x1="1228.9" y1="1555.0" x2="1230.4" y2="1557.0" stroke="#000" stroke-width="1.5" stroke-linecap="round"/>
<line x1="1221.5" y1="1549.8" x2="1223.0" y2="1551.8" stroke="#000" stroke-width="1.5" stroke-linecap="round"/>
<line x1="1236.5" y1="1544.2" x2="1238.0" y2="1546.2" stroke="#000" stroke-width="1.5" stroke-linecap="round"/>
<ellipse cx="1229.0" cy="1547.0" rx="5.0" ry="5.0" transform="rotate(35 1229.0 1547.0)" fill="none" stroke="#000" stroke-width="1.35"/>
<ellipse cx="1229.0" cy="1547.5" rx="3.4" ry="3.4" transform="rotate(35 1229.0 1547.5)" fill="none" stroke="#000" stroke-width="1.2000000000000002"/>
<ellipse cx="1152.0" cy="1552.0" rx="9.5" ry="12" transform="rotate(-25 1152.0 1552.0)" fill="#fff" stroke="#000" stroke-width="1.6"/>
<ellipse cx="1151.0" cy="1551.0" rx="9.5" ry="12" transform="rotate(-25 1151.0 1551.0)" fill="#fff" stroke="#000" stroke-width="1.6"/>
<ellipse cx="1151.0" cy="1551.0" rx="4.5" ry="5.5" transform="rotate(-25 1151.0 1551.0)" fill="none" stroke="#000" stroke-width="1.5"/>
<ellipse cx="1257.0" cy="1545.0" rx="9.5" ry="12" transform="rotate(-25 1257.0 1545.0)" fill="#fff" stroke="#000" stroke-width="1.6"/>
<ellipse cx="1256.0" cy="1544.0" rx="9.5" ry="12" transform="rotate(-25 1256.0 1544.0)" fill="#fff" stroke="#000" stroke-width="1.6"/>
<ellipse cx="1256.0" cy="1544.0" rx="4.5" ry="5.5" transform="rotate(-25 1256.0 1544.0)" fill="none" stroke="#000" stroke-width="1.5"/>
<ellipse cx="1163.0" cy="1539.5" rx="8" ry="11" transform="rotate(-25 1163.0 1539.5)" fill="#fff" stroke="#000" stroke-width="1.6"/>
<ellipse cx="1162.0" cy="1538.0" rx="8" ry="11" transform="rotate(-25 1162.0 1538.0)" fill="#fff" stroke="#000" stroke-width="1.6"/>
<ellipse cx="1162.0" cy="1539.0" rx="4" ry="6.5" transform="rotate(-25 1162.0 1539.0)" fill="none" stroke="#000" stroke-width="1.4"/>
<polyline points="1157.0,1530.0 1159.0,1526.0 1164.0,1527.0 1165.0,1530.0" fill="#fff" stroke="#000" stroke-width="1.4" stroke-linejoin="round" stroke-linecap="round"/>
<ellipse cx="1244.0" cy="1519.5" rx="8" ry="11" transform="rotate(-25 1244.0 1519.5)" fill="#fff" stroke="#000" stroke-width="1.6"/>
<ellipse cx="1243.0" cy="1518.0" rx="8" ry="11" transform="rotate(-25 1243.0 1518.0)" fill="#fff" stroke="#000" stroke-width="1.6"/>
<ellipse cx="1243.0" cy="1519.0" rx="4" ry="6.5" transform="rotate(-25 1243.0 1519.0)" fill="none" stroke="#000" stroke-width="1.4"/>
<polyline points="1238.0,1510.0 1240.0,1506.0 1245.0,1507.0 1246.0,1510.0" fill="#fff" stroke="#000" stroke-width="1.4" stroke-linejoin="round" stroke-linecap="round"/>
<path transform="translate(660 1055) scale(0.058140)" d="M685,490 L700,250 L810,160 L1020,185 L1225,430 L1215,640 L1090,720 L870,705 Z" fill="#fff" stroke="#000" stroke-width="2.0" vector-effect="non-scaling-stroke" stroke-linejoin="round" stroke-linecap="round"/>
<path transform="translate(660 1055) scale(0.058140)" d="M700,250 L920,290 L1105,500 L1090,720 M920,290 L1020,185 M1105,500 L1225,430" fill="none" stroke="#000" stroke-width="2.0" vector-effect="non-scaling-stroke" stroke-linejoin="round" stroke-linecap="round"/>
<path transform="translate(660 1055) scale(0.058140)" d="M200,900 L830,390 C900,350 970,400 990,480 C1000,540 980,580 960,600 L330,1125 Z" fill="#fff" stroke="#000" stroke-width="2.0" vector-effect="non-scaling-stroke" stroke-linejoin="round" stroke-linecap="round"/>
<path transform="translate(660 1055) scale(0.058140)" d="M190,960 C170,1040 230,1130 320,1125 C390,1110 390,1010 330,930 C280,880 210,890 190,960 Z" fill="#fff" stroke="#000" stroke-width="2.0" vector-effect="non-scaling-stroke" stroke-linejoin="round" stroke-linecap="round"/>
<path transform="translate(660 1055) scale(0.058140)" d="M555,600 C640,620 720,700 735,770 M485,680 C560,700 640,770 650,830 M400,745 C480,770 540,850 550,910 M320,830 C390,860 440,930 440,985 M265,880 C320,900 370,960 370,1050" fill="none" stroke="#000" stroke-width="2.0" vector-effect="non-scaling-stroke" stroke-linejoin="round" stroke-linecap="round"/>
<path transform="translate(603 1175) scale(0.058140)" d="M685,490 L700,250 L810,160 L1020,185 L1225,430 L1215,640 L1090,720 L870,705 Z" fill="#fff" stroke="#000" stroke-width="2.0" vector-effect="non-scaling-stroke" stroke-linejoin="round" stroke-linecap="round"/>
<path transform="translate(603 1175) scale(0.058140)" d="M700,250 L920,290 L1105,500 L1090,720 M920,290 L1020,185 M1105,500 L1225,430" fill="none" stroke="#000" stroke-width="2.0" vector-effect="non-scaling-stroke" stroke-linejoin="round" stroke-linecap="round"/>
<path transform="translate(603 1175) scale(0.058140)" d="M200,900 L830,390 C900,350 970,400 990,480 C1000,540 980,580 960,600 L330,1125 Z" fill="#fff" stroke="#000" stroke-width="2.0" vector-effect="non-scaling-stroke" stroke-linejoin="round" stroke-linecap="round"/>
<path transform="translate(603 1175) scale(0.058140)" d="M190,960 C170,1040 230,1130 320,1125 C390,1110 390,1010 330,930 C280,880 210,890 190,960 Z" fill="#fff" stroke="#000" stroke-width="2.0" vector-effect="non-scaling-stroke" stroke-linejoin="round" stroke-linecap="round"/>
<path transform="translate(603 1175) scale(0.058140)" d="M555,600 C640,620 720,700 735,770 M485,680 C560,700 640,770 650,830 M400,745 C480,770 540,850 550,910 M320,830 C390,860 440,930 440,985 M265,880 C320,900 370,960 370,1050" fill="none" stroke="#000" stroke-width="2.0" vector-effect="non-scaling-stroke" stroke-linejoin="round" stroke-linecap="round"/>
<ellipse cx="647.5" cy="1147" rx="17" ry="21" transform="rotate(-25 647.5 1147)" fill="#fff" stroke="#000" stroke-width="1.8"/>
<ellipse cx="644.5" cy="1146" rx="17" ry="21" transform="rotate(-25 644.5 1146)" fill="#fff" stroke="#000" stroke-width="1.8"/>
<ellipse cx="644.5" cy="1146" rx="7.5" ry="9.5" transform="rotate(-25 644.5 1146)" fill="none" stroke="#000" stroke-width="1.8"/>
<ellipse cx="593" cy="1260.5" rx="17" ry="21" transform="rotate(-25 593 1260.5)" fill="#fff" stroke="#000" stroke-width="1.8"/>
<ellipse cx="590" cy="1259.5" rx="17" ry="21" transform="rotate(-25 590 1259.5)" fill="#fff" stroke="#000" stroke-width="1.8"/>
<ellipse cx="590" cy="1259.5" rx="7.5" ry="9.5" transform="rotate(-25 590 1259.5)" fill="none" stroke="#000" stroke-width="1.8"/>
<path transform="translate(440 1060) scale(0.200000)" d="M805,945 L880,880 M1000,445 L1020,420" fill="none" stroke="#000" stroke-width="1.6" vector-effect="non-scaling-stroke" stroke-linejoin="round" stroke-linecap="round"/>
<polyline points="672,1117 646,1140" fill="none" stroke="#000" stroke-width="1.6" stroke-linejoin="round" stroke-linecap="round"/>
<polyline points="615,1237 592,1255" fill="none" stroke="#000" stroke-width="1.6" stroke-linejoin="round" stroke-linecap="round"/>
<path transform="translate(440 1060) scale(0.200000)" d="M985,395 L1060,465 M1000,450 L1050,400 M715,965 L790,1035 M730,1020 L780,970" fill="none" stroke="#000" stroke-width="1.4" vector-effect="non-scaling-stroke" stroke-linejoin="round" stroke-linecap="round"/>
<polyline points="664,1150 752.8,1162" fill="none" stroke="#000" stroke-width="1.6" stroke-linejoin="round" stroke-linecap="round"/>
<polyline points="730,1092 784,1106" fill="none" stroke="#000" stroke-width="1.6" stroke-linejoin="round" stroke-linecap="round"/>
<polyline points="674,1211 736,1226.8" fill="none" stroke="#000" stroke-width="1.6" stroke-linejoin="round" stroke-linecap="round"/>
<polyline points="608,1271 701,1294" fill="none" stroke="#000" stroke-width="1.6" stroke-linejoin="round" stroke-linecap="round"/>
<polyline points="542,1300 586,1263" fill="none" stroke="#000" stroke-width="1.6" stroke-linejoin="round" stroke-linecap="round"/>
<path transform="translate(480 1020) scale(0.400000)" d="M92,665 L300,790 L425,810 L550,785 L555,860 L425,890 L300,875 L85,745 Z" fill="#fff" stroke="#000" stroke-width="2.0" vector-effect="non-scaling-stroke" stroke-linejoin="round" stroke-linecap="round"/>
<path transform="translate(480 1020) scale(0.400000)" d="M96,676 L300,800 L425,820 L548,796" fill="none" stroke="#000" stroke-width="1.6" vector-effect="non-scaling-stroke" stroke-linejoin="round" stroke-linecap="round"/>
<rect x="519.2" y="1311.6" width="16.0" height="8.8" rx="4.4" ry="4.4" transform="rotate(25 527.2 1316.0)" fill="none" stroke="#000" stroke-width="1.8"/>
<line x1="521.7" y1="1315.1" x2="531.4" y2="1319.7" stroke="#000" stroke-width="1.5" stroke-linecap="round"/>
<rect x="676.0" y="1357.6" width="16.0" height="8.8" rx="4.4" ry="4.4" transform="rotate(-5 684.0 1362.0)" fill="none" stroke="#000" stroke-width="1.8"/>
<line x1="678.8" y1="1364.0" x2="689.5" y2="1363.1" stroke="#000" stroke-width="1.5" stroke-linecap="round"/>
<path transform="translate(240 1120) scale(0.200000)" d="M770,1140 L1580,1430 L1830,1170" fill="none" stroke="#000" stroke-width="1.6" vector-effect="non-scaling-stroke" stroke-linejoin="round" stroke-linecap="round"/>
<path transform="translate(480 1020) scale(0.400000)" d="M68,775 L270,880 L410,905 L530,890 L540,975 L410,1005 L280,985 L60,855 Z" fill="#fff" stroke="#000" stroke-width="2.0" vector-effect="non-scaling-stroke" stroke-linejoin="round" stroke-linecap="round"/>
<path transform="translate(480 1020) scale(0.400000)" d="M72,787 L272,892 L410,917 L530,902" fill="none" stroke="#000" stroke-width="1.6" vector-effect="non-scaling-stroke" stroke-linejoin="round" stroke-linecap="round"/>
<rect x="510.0" y="1357.6" width="16.0" height="8.8" rx="4.4" ry="4.4" transform="rotate(25 518.0 1362.0)" fill="none" stroke="#000" stroke-width="1.8"/>
<line x1="512.5" y1="1361.1" x2="522.2" y2="1365.7" stroke="#000" stroke-width="1.5" stroke-linecap="round"/>
<rect x="666.0" y="1401.6" width="16.0" height="8.8" rx="4.4" ry="4.4" transform="rotate(-5 674.0 1406.0)" fill="none" stroke="#000" stroke-width="1.8"/>
<line x1="668.8" y1="1408.0" x2="679.5" y2="1407.1" stroke="#000" stroke-width="1.5" stroke-linecap="round"/>
<path transform="translate(480 1020) scale(0.400000)" d="M555,860 L665,890 M520,985 L565,1065" fill="none" stroke="#000" stroke-width="1.6" vector-effect="non-scaling-stroke" stroke-linejoin="round" stroke-linecap="round"/>
<path id="c13" d="M542,1333 Q595,1365 700,1370" fill="none"/>
<text font-size="17.5" stroke="#000" stroke-width="0.3"><textPath href="#c13">SIDE SCRAPER</textPath></text>
<path id="c12" d="M528,1366 Q590,1405 700,1412" fill="none"/>
<text font-size="17" letter-spacing="-0.3" stroke="#000" stroke-width="0.3"><textPath href="#c12">POLY OR RUBBER</textPath></text>
<line x1="175" y1="1368" x2="233" y2="1328" stroke="#000" stroke-width="1.5" stroke-linecap="round"/>
<polygon points="153.1,1376.7 154.4,1362.4 168.2,1358.7 180.9,1369.3 183.9,1372.8 182.6,1387.1 168.8,1390.8 156.1,1380.2" fill="#fff" stroke="#000" stroke-width="1.8" stroke-linejoin="round" stroke-linecap="round"/>
<polygon points="179.6,1383.6 165.8,1387.3 153.1,1376.7 154.4,1362.4 168.2,1358.7 180.9,1369.3" fill="none" stroke="#000" stroke-width="1.8" stroke-linejoin="round" stroke-linecap="round"/>
<line x1="179.6" y1="1383.6" x2="182.6" y2="1387.1" stroke="#000" stroke-width="1.8" stroke-linecap="round"/>
<line x1="165.8" y1="1387.3" x2="168.8" y2="1390.8" stroke="#000" stroke-width="1.8" stroke-linecap="round"/>
<line x1="153.1" y1="1376.7" x2="156.1" y2="1380.2" stroke="#000" stroke-width="1.8" stroke-linecap="round"/>
<line x1="180.9" y1="1369.3" x2="183.9" y2="1372.8" stroke="#000" stroke-width="1.8" stroke-linecap="round"/>
<ellipse cx="167" cy="1373" rx="8.2" ry="8.2" transform="rotate(40 167 1373)" fill="none" stroke="#000" stroke-width="1.62"/>
<ellipse cx="167" cy="1373.8" rx="5.6" ry="5.6" transform="rotate(40 167 1373.8)" fill="none" stroke="#000" stroke-width="1.4400000000000002"/>
<ellipse cx="208" cy="1350.5" rx="10.5" ry="14" transform="rotate(-25 208 1350.5)" fill="#fff" stroke="#000" stroke-width="1.8"/>
<ellipse cx="206" cy="1348" rx="10.5" ry="14" transform="rotate(-25 206 1348)" fill="#fff" stroke="#000" stroke-width="1.8"/>
<ellipse cx="206.5" cy="1349.5" rx="5" ry="8.5" transform="rotate(-25 206.5 1349.5)" fill="none" stroke="#000" stroke-width="1.6"/>
<polyline points="199,1338 202,1332 208,1333 209,1338" fill="#fff" stroke="#000" stroke-width="1.6" stroke-linejoin="round" stroke-linecap="round"/>
<ellipse cx="235" cy="1329.6" rx="16.5" ry="21" transform="rotate(-25 235 1329.6)" fill="#fff" stroke="#000" stroke-width="1.8"/>
<ellipse cx="233" cy="1328" rx="16.5" ry="21" transform="rotate(-25 233 1328)" fill="#fff" stroke="#000" stroke-width="1.8"/>
<ellipse cx="231.5" cy="1328" rx="7.2" ry="9.6" transform="rotate(-25 231.5 1328)" fill="none" stroke="#000" stroke-width="1.8"/>
<line x1="227" y1="1333" x2="239" y2="1323" stroke="#000" stroke-width="1.4" stroke-linecap="round"/>
<line x1="303" y1="1472" x2="361" y2="1433" stroke="#000" stroke-width="1.5" stroke-linecap="round"/>
<polygon points="281.1,1480.7 282.4,1466.4 296.2,1462.7 308.9,1473.3 311.9,1476.8 310.6,1491.1 296.8,1494.8 284.1,1484.2" fill="#fff" stroke="#000" stroke-width="1.8" stroke-linejoin="round" stroke-linecap="round"/>
<polygon points="307.6,1487.6 293.8,1491.3 281.1,1480.7 282.4,1466.4 296.2,1462.7 308.9,1473.3" fill="none" stroke="#000" stroke-width="1.8" stroke-linejoin="round" stroke-linecap="round"/>
<line x1="307.6" y1="1487.6" x2="310.6" y2="1491.1" stroke="#000" stroke-width="1.8" stroke-linecap="round"/>
<line x1="293.8" y1="1491.3" x2="296.8" y2="1494.8" stroke="#000" stroke-width="1.8" stroke-linecap="round"/>
<line x1="281.1" y1="1480.7" x2="284.1" y2="1484.2" stroke="#000" stroke-width="1.8" stroke-linecap="round"/>
<line x1="308.9" y1="1473.3" x2="311.9" y2="1476.8" stroke="#000" stroke-width="1.8" stroke-linecap="round"/>
<ellipse cx="295" cy="1477" rx="8.2" ry="8.2" transform="rotate(40 295 1477)" fill="none" stroke="#000" stroke-width="1.62"/>
<ellipse cx="295" cy="1477.8" rx="5.6" ry="5.6" transform="rotate(40 295 1477.8)" fill="none" stroke="#000" stroke-width="1.4400000000000002"/>
<ellipse cx="336" cy="1453.5" rx="10.5" ry="14" transform="rotate(-25 336 1453.5)" fill="#fff" stroke="#000" stroke-width="1.8"/>
<ellipse cx="334" cy="1451" rx="10.5" ry="14" transform="rotate(-25 334 1451)" fill="#fff" stroke="#000" stroke-width="1.8"/>
<ellipse cx="334.5" cy="1452.5" rx="5" ry="8.5" transform="rotate(-25 334.5 1452.5)" fill="none" stroke="#000" stroke-width="1.6"/>
<polyline points="327,1441 330,1435 336,1436 337,1441" fill="#fff" stroke="#000" stroke-width="1.6" stroke-linejoin="round" stroke-linecap="round"/>
<ellipse cx="363" cy="1434.6" rx="16.5" ry="21" transform="rotate(-25 363 1434.6)" fill="#fff" stroke="#000" stroke-width="1.8"/>
<ellipse cx="361" cy="1433" rx="16.5" ry="21" transform="rotate(-25 361 1433)" fill="#fff" stroke="#000" stroke-width="1.8"/>
<ellipse cx="359.5" cy="1433" rx="7.2" ry="9.6" transform="rotate(-25 359.5 1433)" fill="none" stroke="#000" stroke-width="1.8"/>
<line x1="355" y1="1438" x2="367" y2="1428" stroke="#000" stroke-width="1.4" stroke-linecap="round"/>
<path transform="translate(140 1290) scale(0.200000)" d="M525,150 L760,0 M360,365 L325,600 M1165,670 L1395,500 M1180,800 L1260,1100 M775,1010 L695,1300" fill="none" stroke="#000" stroke-width="1.6" vector-effect="non-scaling-stroke" stroke-linejoin="round" stroke-linecap="round"/>
<path transform="translate(440 1060) scale(0.200000)" d="M525,150 L700,220 L520,840 L375,790 L410,520 Z" fill="#fff" stroke="#000" stroke-width="2.0" vector-effect="non-scaling-stroke" stroke-linejoin="round" stroke-linecap="round"/>
<path transform="translate(440 1060) scale(0.200000)" d="M525,150 L535,148 L715,225 L700,220 M715,225 L530,850 L520,840" fill="none" stroke="#000" stroke-width="2.0" vector-effect="non-scaling-stroke" stroke-linejoin="round" stroke-linecap="round"/>
<rect x="548.4" y="1109.2" width="15.2" height="8.8" rx="4.4" ry="4.4" transform="rotate(20 556.0 1113.6)" fill="none" stroke="#000" stroke-width="1.8"/>
<line x1="550.8" y1="1113.4" x2="560.1" y2="1116.7" stroke="#000" stroke-width="1.5" stroke-linecap="round"/>
<rect x="535.4" y="1155.6" width="15.2" height="8.8" rx="4.4" ry="4.4" transform="rotate(20 543.0 1160.0)" fill="none" stroke="#000" stroke-width="1.8"/>
<line x1="537.8" y1="1159.8" x2="547.1" y2="1163.1" stroke="#000" stroke-width="1.5" stroke-linecap="round"/>
<rect x="520.4" y="1205.6" width="15.2" height="8.8" rx="4.4" ry="4.4" transform="rotate(20 528.0 1210.0)" fill="none" stroke="#000" stroke-width="1.8"/>
<line x1="522.8" y1="1209.8" x2="532.1" y2="1213.1" stroke="#000" stroke-width="1.5" stroke-linecap="round"/>
<text x="541.0" y="1122.0" font-size="12.5" text-anchor="middle" font-weight="normal" stroke="#000" stroke-width="0.5" transform="rotate(8 541.0 1122.0)">E</text>
<text x="538.0" y="1136.0" font-size="12.5" text-anchor="middle" font-weight="normal" stroke="#000" stroke-width="0.5" transform="rotate(8 538.0 1136.0)">N</text>
<text x="534.0" y="1149.0" font-size="12.5" text-anchor="middle" font-weight="normal" stroke="#000" stroke-width="0.5" transform="rotate(8 534.0 1149.0)">D</text>
<text x="570.0" y="1125.0" font-size="12.5" text-anchor="middle" font-weight="normal" stroke="#000" stroke-width="0.5" transform="rotate(8 570.0 1125.0)">S</text>
<text x="566.0" y="1139.0" font-size="12.5" text-anchor="middle" font-weight="normal" stroke="#000" stroke-width="0.5" transform="rotate(8 566.0 1139.0)">C</text>
<text x="563.0" y="1152.0" font-size="12.5" text-anchor="middle" font-weight="normal" stroke="#000" stroke-width="0.5" transform="rotate(8 563.0 1152.0)">R</text>
<text x="558.4" y="1167.0" font-size="12.5" text-anchor="middle" font-weight="normal" stroke="#000" stroke-width="0.5" transform="rotate(8 558.4 1167.0)">A</text>
<text x="554.4" y="1181.0" font-size="12.5" text-anchor="middle" font-weight="normal" stroke="#000" stroke-width="0.5" transform="rotate(8 554.4 1181.0)">P</text>
<text x="550.0" y="1195.0" font-size="12.5" text-anchor="middle" font-weight="normal" stroke="#000" stroke-width="0.5" transform="rotate(8 550.0 1195.0)">E</text>
<text x="546.0" y="1209.0" font-size="12.5" text-anchor="middle" font-weight="normal" stroke="#000" stroke-width="0.5" transform="rotate(8 546.0 1209.0)">R</text>
<path transform="translate(440 1060) scale(0.200000)" d="M245,455 L440,525 L250,1145 L55,1065 Z" fill="#fff" stroke="#000" stroke-width="2.0" vector-effect="non-scaling-stroke" stroke-linejoin="round" stroke-linecap="round"/>
<path transform="translate(440 1060) scale(0.200000)" d="M245,455 L255,450 L445,520 L440,525 M445,520 L265,1140 L250,1145" fill="none" stroke="#000" stroke-width="2.0" vector-effect="non-scaling-stroke" stroke-linejoin="round" stroke-linecap="round"/>
<rect x="492.4" y="1170.6" width="15.2" height="8.8" rx="4.4" ry="4.4" transform="rotate(20 500.0 1175.0)" fill="none" stroke="#000" stroke-width="1.8"/>
<line x1="494.8" y1="1174.8" x2="504.1" y2="1178.1" stroke="#000" stroke-width="1.5" stroke-linecap="round"/>
<rect x="480.4" y="1215.6" width="15.2" height="8.8" rx="4.4" ry="4.4" transform="rotate(20 488.0 1220.0)" fill="none" stroke="#000" stroke-width="1.8"/>
<line x1="482.8" y1="1219.8" x2="492.1" y2="1223.1" stroke="#000" stroke-width="1.5" stroke-linecap="round"/>
<rect x="464.4" y="1266.6" width="15.2" height="8.8" rx="4.4" ry="4.4" transform="rotate(20 472.0 1271.0)" fill="none" stroke="#000" stroke-width="1.8"/>
<line x1="466.8" y1="1270.8" x2="476.1" y2="1274.1" stroke="#000" stroke-width="1.5" stroke-linecap="round"/>
<text x="483.6" y="1193.0" font-size="12.5" text-anchor="middle" font-weight="normal" stroke="#000" stroke-width="0.5" transform="rotate(8 483.6 1193.0)">P</text>
<text x="480.0" y="1207.0" font-size="12.5" text-anchor="middle" font-weight="normal" stroke="#000" stroke-width="0.5" transform="rotate(8 480.0 1207.0)">O</text>
<text x="476.0" y="1221.0" font-size="12.5" text-anchor="middle" font-weight="normal" stroke="#000" stroke-width="0.5" transform="rotate(8 476.0 1221.0)">L</text>
<text x="472.0" y="1234.0" font-size="12.5" text-anchor="middle" font-weight="normal" stroke="#000" stroke-width="0.5" transform="rotate(8 472.0 1234.0)">Y</text>
<text x="509.0" y="1201.0" font-size="12.5" text-anchor="middle" font-weight="normal" stroke="#000" stroke-width="0.5" transform="rotate(8 509.0 1201.0)">R</text>
<text x="505.0" y="1214.0" font-size="12.5" text-anchor="middle" font-weight="normal" stroke="#000" stroke-width="0.5" transform="rotate(8 505.0 1214.0)">U</text>
<text x="501.0" y="1227.0" font-size="12.5" text-anchor="middle" font-weight="normal" stroke="#000" stroke-width="0.5" transform="rotate(8 501.0 1227.0)">B</text>
<text x="497.6" y="1241.0" font-size="12.5" text-anchor="middle" font-weight="normal" stroke="#000" stroke-width="0.5" transform="rotate(8 497.6 1241.0)">B</text>
<text x="493.0" y="1254.0" font-size="12.5" text-anchor="middle" font-weight="normal" stroke="#000" stroke-width="0.5" transform="rotate(8 493.0 1254.0)">E</text>
<text x="489.0" y="1269.0" font-size="12.5" text-anchor="middle" font-weight="normal" stroke="#000" stroke-width="0.5" transform="rotate(8 489.0 1269.0)">R</text>
<text x="459.0" y="1261.0" font-size="13" text-anchor="start" font-weight="normal" stroke="#000" stroke-width="0.5" transform="rotate(10 459.0 1261.0)">OR</text>
<path transform="translate(440 1060) scale(0.200000)" d="M280,185 L245,505 M795,55 L650,250 M520,510 L430,590 M640,510 L835,590 L1000,445 M0,880 L165,930 L240,815" fill="none" stroke="#000" stroke-width="1.6" vector-effect="non-scaling-stroke" stroke-linejoin="round" stroke-linecap="round"/>
<path transform="translate(240 1120) scale(0.200000)" d="M495,250 L615,172 L740,232 L825,325 L930,320 L1075,400 L1075,425 L950,515 L810,455 L700,455 L640,370 L500,280 Z" fill="#fff" stroke="#000" stroke-width="2.0" vector-effect="non-scaling-stroke" stroke-linejoin="round" stroke-linecap="round"/>
<path transform="translate(240 1120) scale(0.200000)" d="M495,250 L635,305 L740,232 M635,305 L700,420 L810,410 L930,325 M810,410 L950,490 L1075,400 M950,490 L950,515 M635,305 L640,370" fill="none" stroke="#000" stroke-width="1.8" vector-effect="non-scaling-stroke" stroke-linejoin="round" stroke-linecap="round"/>
<path transform="translate(240 1120) scale(0.200000)" d="M575,240 a40,22 -5 1,0 80,0 a40,22 -5 1,0 -80,0 M585,250 C600,262 640,262 650,250" fill="none" stroke="#000" stroke-width="1.8" vector-effect="non-scaling-stroke" stroke-linejoin="round" stroke-linecap="round"/>
<path transform="translate(240 1120) scale(0.200000)" d="M908,405 a42,22 -5 1,0 84,0 a42,22 -5 1,0 -84,0 M918,415 C935,427 975,427 985,415" fill="none" stroke="#000" stroke-width="1.8" vector-effect="non-scaling-stroke" stroke-linejoin="round" stroke-linecap="round"/>
<path transform="translate(240 1120) scale(0.200000)" d="M605,-215 L605,240 M965,110 L965,400" fill="none" stroke="#000" stroke-width="1.6" vector-effect="non-scaling-stroke" stroke-linejoin="round" stroke-linecap="round"/>
<path transform="translate(240 1120) scale(0.200000)" d="M0,40 L500,245 M-130,430 L70,410 M155,270 L580,430 L580,340 M-150,760 L70,635" fill="none" stroke="#000" stroke-width="1.6" vector-effect="non-scaling-stroke" stroke-linejoin="round" stroke-linecap="round"/>
<ellipse cx="271.0" cy="1202.8" rx="18" ry="8.1" transform="rotate(0 271.0 1202.8)" fill="#fff" stroke="#000" stroke-width="1.8"/>
<ellipse cx="271.0" cy="1201.0" rx="18" ry="8.1" transform="rotate(0 271.0 1201.0)" fill="#fff" stroke="#000" stroke-width="1.8"/>
<ellipse cx="271.0" cy="1201.0" rx="9.5" ry="4.3" transform="rotate(0 271.0 1201.0)" fill="none" stroke="#000" stroke-width="1.8"/>
<polygon points="250.7,1229.1 267.1,1222.3 284.4,1226.2 285.3,1236.9 285.3,1245.9 268.9,1252.7 251.6,1248.8 250.7,1238.1" fill="#fff" stroke="#000" stroke-width="1.8" stroke-linejoin="round" stroke-linecap="round"/>
<polygon points="285.3,1236.9 268.9,1243.7 251.6,1239.8 250.7,1229.1 267.1,1222.3 284.4,1226.2" fill="none" stroke="#000" stroke-width="1.8" stroke-linejoin="round" stroke-linecap="round"/>
<line x1="285.3" y1="1236.9" x2="285.3" y2="1245.9" stroke="#000" stroke-width="1.8" stroke-linecap="round"/>
<line x1="268.9" y1="1243.7" x2="268.9" y2="1252.7" stroke="#000" stroke-width="1.8" stroke-linecap="round"/>
<line x1="251.6" y1="1239.8" x2="251.6" y2="1248.8" stroke="#000" stroke-width="1.8" stroke-linecap="round"/>
<ellipse cx="268.0" cy="1233.0" rx="9.8" ry="5.4" transform="rotate(-5 268.0 1233.0)" fill="none" stroke="#000" stroke-width="1.62"/>
<ellipse cx="268.6" cy="1234.6" rx="6.8" ry="3.8" transform="rotate(-5 268.6 1234.6)" fill="none" stroke="#000" stroke-width="1.4400000000000002"/>
<path transform="translate(240 1120) scale(0.200000)" d="M155,270 L155,590" fill="none" stroke="#000" stroke-width="1.5" vector-effect="non-scaling-stroke" stroke-linejoin="round" stroke-linecap="round"/>
<path transform="translate(200 900) scale(0.200000)" d="M1030,395 C1100,440 1150,520 1180,600 C1210,680 1210,760 1190,800 L1120,850 C1140,780 1140,680 1110,600 C1080,520 1040,470 980,430 Z" fill="#fff" stroke="#000" stroke-width="0" vector-effect="non-scaling-stroke" stroke-linejoin="round" stroke-linecap="round"/>
<path transform="translate(200 900) scale(0.200000)" d="M1030,395 C1100,440 1170,520 1200,600 C1230,680 1230,760 1190,800" fill="none" stroke="#000" stroke-width="2.0" vector-effect="non-scaling-stroke" stroke-linejoin="round" stroke-linecap="round"/>
<path transform="translate(200 900) scale(0.200000)" d="M990,420 C1060,470 1120,540 1150,620 C1175,690 1175,760 1150,820" fill="none" stroke="#000" stroke-width="1.8" vector-effect="non-scaling-stroke" stroke-linejoin="round" stroke-linecap="round"/>
<path transform="translate(200 900) scale(0.200000)" d="M1100,460 C1160,500 1210,560 1225,640 C1240,720 1220,780 1190,800" fill="none" stroke="#000" stroke-width="1.8" vector-effect="non-scaling-stroke" stroke-linejoin="round" stroke-linecap="round"/>
<path transform="translate(200 900) scale(0.200000)" d="M905,555 L1020,490 C1100,560 1140,650 1140,740 C1140,790 1120,830 1100,845 L1000,800 Z" fill="#fff" stroke="#000" stroke-width="2.0" vector-effect="non-scaling-stroke" stroke-linejoin="round" stroke-linecap="round"/>
<path transform="translate(200 900) scale(0.200000)" d="M1020,490 C1080,560 1110,650 1105,740 C1103,790 1095,830 1100,845" fill="none" stroke="#000" stroke-width="1.8" vector-effect="non-scaling-stroke" stroke-linejoin="round" stroke-linecap="round"/>
<path transform="translate(200 900) scale(0.200000)" d="M1120,800 L1120,1150 C1120,1170 1185,1170 1185,1150 L1185,790" fill="#fff" stroke="#000" stroke-width="2.0" vector-effect="non-scaling-stroke" stroke-linejoin="round" stroke-linecap="round"/>
<path transform="translate(200 900) scale(0.200000)" d="M1120,975 C1140,985 1165,985 1185,975 M1120,1010 C1140,1020 1165,1020 1185,1010 M1120,1045 C1140,1055 1165,1055 1185,1045 M1120,1080 C1140,1090 1165,1090 1185,1080 M1120,1115 C1140,1125 1165,1125 1185,1115" fill="none" stroke="#000" stroke-width="1.8" vector-effect="non-scaling-stroke" stroke-linejoin="round" stroke-linecap="round"/>
<path transform="translate(200 900) scale(0.200000)" d="M585,130 L915,200 L955,380 M320,465 L690,490" fill="none" stroke="#000" stroke-width="1.6" vector-effect="non-scaling-stroke" stroke-linejoin="round" stroke-linecap="round"/>
<path transform="translate(240 1120) scale(0.200000)" d="M100,1090 L270,1270 L490,1375 L740,1410 L995,1360 L985,1185 L760,1250 L760,1045 L965,1000 L945,870 L775,905 L780,745 L925,710 L905,590 L785,635 L795,455 L675,440 L665,600 L500,555 L435,530 L310,462 Z" fill="#fff" stroke="#000" stroke-width="2.0" vector-effect="non-scaling-stroke" stroke-linejoin="round" stroke-linecap="round"/>
<path transform="translate(240 1120) scale(0.200000)" d="M410,495 L490,445 L665,495 M995,1360 L975,1195 L760,1255" fill="none" stroke="#000" stroke-width="1.6" vector-effect="non-scaling-stroke" stroke-linejoin="round" stroke-linecap="round"/>
<path transform="translate(240 1120) scale(0.200000)" d="M775,890 L935,858 L945,870 M780,730 L915,698 L925,710 M785,620 L895,578 L905,590 M760,1235 L965,1175 L985,1185 M795,455 L810,450 L805,610" fill="none" stroke="#000" stroke-width="1.6" vector-effect="non-scaling-stroke" stroke-linejoin="round" stroke-linecap="round"/>
<path transform="translate(240 1120) scale(0.200000)" d="M380,640 L660,740 L655,900 L480,845 L335,770 Z M340,775 L360,650 L380,640 M360,735 L455,670" fill="none" stroke="#000" stroke-width="2.0" vector-effect="non-scaling-stroke" stroke-linejoin="round" stroke-linecap="round"/>
<path transform="translate(240 1120) scale(0.200000)" d="M300,890 L460,980 L640,1040 L635,1255 L410,1175 L240,1080 Z M255,1085 L300,895 M395,1165 L520,1055 L640,1095" fill="none" stroke="#000" stroke-width="2.0" vector-effect="non-scaling-stroke" stroke-linejoin="round" stroke-linecap="round"/>
<rect x="300.0" y="1229.6" width="16.0" height="8.8" rx="4.4" ry="4.4" transform="rotate(30 308.0 1234.0)" fill="none" stroke="#000" stroke-width="1.8"/>
<line x1="302.6" y1="1232.7" x2="311.9" y2="1238.0" stroke="#000" stroke-width="1.5" stroke-linecap="round"/>
<rect x="284.0" y="1280.6" width="16.0" height="8.8" rx="4.4" ry="4.4" transform="rotate(30 292.0 1285.0)" fill="none" stroke="#000" stroke-width="1.8"/>
<line x1="286.6" y1="1283.7" x2="295.9" y2="1289.0" stroke="#000" stroke-width="1.5" stroke-linecap="round"/>
<rect x="264.0" y="1335.6" width="16.0" height="8.8" rx="4.4" ry="4.4" transform="rotate(30 272.0 1340.0)" fill="none" stroke="#000" stroke-width="1.8"/>
<line x1="266.6" y1="1338.7" x2="275.9" y2="1344.0" stroke="#000" stroke-width="1.5" stroke-linecap="round"/>
<rect x="285.0" y="1351.6" width="16.0" height="8.8" rx="4.4" ry="4.4" transform="rotate(30 293.0 1356.0)" fill="none" stroke="#000" stroke-width="1.8"/>
<line x1="287.6" y1="1354.7" x2="296.9" y2="1360.0" stroke="#000" stroke-width="1.5" stroke-linecap="round"/>
<rect x="410.0" y="1381.6" width="16.0" height="8.8" rx="4.4" ry="4.4" transform="rotate(30 418.0 1386.0)" fill="none" stroke="#000" stroke-width="1.8"/>
<line x1="412.6" y1="1384.7" x2="421.9" y2="1390.0" stroke="#000" stroke-width="1.5" stroke-linecap="round"/>
<text x="302.0" y="1248.0" font-size="14.5" text-anchor="middle" font-weight="normal" stroke="#000" stroke-width="0.5" transform="rotate(15 302.0 1248.0)">E</text>
<text x="298.2" y="1262.4" font-size="14.5" text-anchor="middle" font-weight="normal" stroke="#000" stroke-width="0.5" transform="rotate(15 298.2 1262.4)">N</text>
<text x="293.6" y="1275.6" font-size="14.5" text-anchor="middle" font-weight="normal" stroke="#000" stroke-width="0.5" transform="rotate(15 293.6 1275.6)">D</text>
<text x="320.0" y="1378.0" font-size="20" text-anchor="start" font-weight="normal" stroke="#000" stroke-width="0.5" transform="rotate(14 320.0 1378.0)">SIDE</text>
<path transform="translate(240 1120) scale(0.200000)" d="M810,520 L1170,630 L1245,520 M20,1000 L240,845 M760,1445 L890,1335" fill="none" stroke="#000" stroke-width="1.6" vector-effect="non-scaling-stroke" stroke-linejoin="round" stroke-linecap="round"/>
<text x="1027.34" y="230" font-size="33.2" text-anchor="start" font-weight="normal" stroke="#000" stroke-width="0.5">ENGINE END</text>
<text x="663.5400000000001" y="467.2" font-size="33.2" text-anchor="start" font-weight="normal" stroke="#000" stroke-width="0.5">CENTER</text>
<text x="628.14" y="504" font-size="33.2" text-anchor="start" font-weight="normal" stroke="#000" stroke-width="0.5">ENGINE END</text>
<text x="351.53999999999996" y="873.2" font-size="33.2" text-anchor="start" font-weight="normal" stroke="#000" stroke-width="0.5">CENTER</text>
<text x="343.34" y="910" font-size="33.2" text-anchor="start" font-weight="normal" stroke="#000" stroke-width="0.5">TOW END</text>
<text x="420.53999999999996" y="1443.2" font-size="33.2" text-anchor="start" font-weight="normal" stroke="#000" stroke-width="0.5">TOW</text>
<text x="422.14" y="1480" font-size="33.2" text-anchor="start" font-weight="normal" stroke="#000" stroke-width="0.5">END</text>
<text x="1177.2" y="1287" font-size="23.7" text-anchor="middle" font-weight="normal" stroke="#000" stroke-width="0.5">WIPER</text>
<text x="1176.8" y="1313.4" font-size="23.7" text-anchor="middle" font-weight="normal" stroke="#000" stroke-width="0.5">AND</text>
<text x="1177" y="1339.6" font-size="23.7" text-anchor="middle" font-weight="normal" stroke="#000" stroke-width="0.5">SCRAPPER</text>
<text x="1177.1" y="1366" font-size="23.7" text-anchor="middle" font-weight="normal" stroke="#000" stroke-width="0.5">HARDWARE</text>
<text x="1177.1" y="1392.6" font-size="23.7" text-anchor="middle" font-weight="normal" stroke="#000" stroke-width="0.5">KIT</text>
<circle cx="957.2" cy="766.8" r="23.3" fill="#fff" stroke="#000" stroke-width="1.8"/>
<polygon points="961.35,755.40 961.35,777.60 958.65,777.60 958.65,760.30 952.85,763.30 952.85,761.00 958.35,755.60" fill="#000"/>
<circle cx="1257.2" cy="432" r="23.3" fill="#fff" stroke="#000" stroke-width="1.8"/>
<text x="1257.20" y="442.80" font-size="31.5" text-anchor="middle" stroke="#000" stroke-width="0.4">2</text>
<circle cx="865.2" cy="877.2" r="23.3" fill="#fff" stroke="#000" stroke-width="1.8"/>
<text x="865.20" y="888.00" font-size="31.5" text-anchor="middle" stroke="#000" stroke-width="0.4">2</text>
<circle cx="525" cy="806" r="23.3" fill="#fff" stroke="#000" stroke-width="1.8"/>
<text x="525.00" y="816.80" font-size="31.5" text-anchor="middle" stroke="#000" stroke-width="0.4">2</text>
<circle cx="186.8" cy="1279.2" r="23.3" fill="#fff" stroke="#000" stroke-width="1.8"/>
<text x="186.80" y="1290.00" font-size="31.5" text-anchor="middle" stroke="#000" stroke-width="0.4">2</text>
<circle cx="622" cy="698.8" r="23.3" fill="#fff" stroke="#000" stroke-width="1.8"/>
<text x="622.00" y="709.60" font-size="31.5" text-anchor="middle" stroke="#000" stroke-width="0.4">3</text>
<circle cx="657.2" cy="602" r="23.3" fill="#fff" stroke="#000" stroke-width="1.8"/>
<text x="657.20" y="612.80" font-size="31.5" text-anchor="middle" stroke="#000" stroke-width="0.4">4</text>
<circle cx="769.2" cy="929.2" r="23.3" fill="#fff" stroke="#000" stroke-width="1.8"/>
<text x="769.20" y="940.00" font-size="31.5" text-anchor="middle" stroke="#000" stroke-width="0.4">4</text>
<circle cx="952.8" cy="416" r="23.3" fill="#fff" stroke="#000" stroke-width="1.8"/>
<text x="952.80" y="426.80" font-size="31.5" text-anchor="middle" stroke="#000" stroke-width="0.4">5</text>
<circle cx="241.2" cy="990.8" r="23.3" fill="#fff" stroke="#000" stroke-width="1.8"/>
<text x="241.20" y="1001.60" font-size="31.5" text-anchor="middle" stroke="#000" stroke-width="0.4">5</text>
<circle cx="947.9" cy="241.4" r="23.3" fill="#fff" stroke="#000" stroke-width="1.8"/>
<text x="947.90" y="252.20" font-size="31.5" text-anchor="middle" stroke="#000" stroke-width="0.4">6</text>
<circle cx="1246" cy="504" r="23.3" fill="#fff" stroke="#000" stroke-width="1.8"/>
<text x="1246.00" y="514.80" font-size="31.5" text-anchor="middle" stroke="#000" stroke-width="0.4">7</text>
<circle cx="190" cy="1204" r="23.3" fill="#fff" stroke="#000" stroke-width="1.8"/>
<text x="190.00" y="1214.80" font-size="31.5" text-anchor="middle" stroke="#000" stroke-width="0.4">7</text>
<circle cx="1150" cy="868" r="23.3" fill="#fff" stroke="#000" stroke-width="1.8"/>
<text x="1150.00" y="878.80" font-size="31.5" text-anchor="middle" stroke="#000" stroke-width="0.4">8</text>
<circle cx="294" cy="918.8" r="23.3" fill="#fff" stroke="#000" stroke-width="1.8"/>
<text x="294.00" y="929.60" font-size="31.5" text-anchor="middle" stroke="#000" stroke-width="0.4">8</text>
<circle cx="722" cy="996" r="23.3" fill="#fff" stroke="#000" stroke-width="1.8"/>
<text x="722.00" y="1006.80" font-size="31.5" text-anchor="middle" stroke="#000" stroke-width="0.4">9</text>
<circle cx="806.8" cy="1103.4" r="23.3" fill="#fff" stroke="#000" stroke-width="1.8"/>
<polygon points="800.65,1092.00 800.65,1114.20 797.95,1114.20 797.95,1096.90 792.15,1099.90 792.15,1097.60 797.65,1092.20" fill="#000"/>
<text x="814.10" y="1114.20" font-size="31.5" text-anchor="middle" stroke="#000" stroke-width="0.4">0</text>
<circle cx="759.2" cy="1234.8" r="23.3" fill="#fff" stroke="#000" stroke-width="1.8"/>
<polygon points="753.05,1223.40 753.05,1245.60 750.35,1245.60 750.35,1228.30 744.55,1231.30 744.55,1229.00 750.05,1223.60" fill="#000"/>
<text x="766.50" y="1245.60" font-size="31.5" text-anchor="middle" stroke="#000" stroke-width="0.4">0</text>
<circle cx="776" cy="1166" r="23.3" fill="#fff" stroke="#000" stroke-width="1.8"/>
<polygon points="771.25,1154.60 771.25,1176.80 768.55,1176.80 768.55,1159.50 762.75,1162.50 762.75,1160.20 768.25,1154.80" fill="#000"/>
<polygon points="786.05,1154.60 786.05,1176.80 783.35,1176.80 783.35,1159.50 777.55,1162.50 777.55,1160.20 783.05,1154.80" fill="#000"/>
<circle cx="724" cy="1296" r="23.3" fill="#fff" stroke="#000" stroke-width="1.8"/>
<polygon points="719.25,1284.60 719.25,1306.80 716.55,1306.80 716.55,1289.50 710.75,1292.50 710.75,1290.20 716.25,1284.80" fill="#000"/>
<polygon points="734.05,1284.60 734.05,1306.80 731.35,1306.80 731.35,1289.50 725.55,1292.50 725.55,1290.20 731.05,1284.80" fill="#000"/>
<circle cx="396" cy="1533.2" r="23.3" fill="#fff" stroke="#000" stroke-width="1.8"/>
<polygon points="391.25,1521.80 391.25,1544.00 388.55,1544.00 388.55,1526.70 382.75,1529.70 382.75,1527.40 388.25,1522.00" fill="#000"/>
<polygon points="406.05,1521.80 406.05,1544.00 403.35,1544.00 403.35,1526.70 397.55,1529.70 397.55,1527.40 403.05,1522.00" fill="#000"/>
<circle cx="716" cy="1467.2" r="23.3" fill="#fff" stroke="#000" stroke-width="1.8"/>
<polygon points="709.85,1455.80 709.85,1478.00 707.15,1478.00 707.15,1460.70 701.35,1463.70 701.35,1461.40 706.85,1456.00" fill="#000"/>
<text x="723.30" y="1478.00" font-size="31.5" text-anchor="middle" stroke="#000" stroke-width="0.4">2</text>
<circle cx="768.8" cy="1380" r="23.3" fill="#fff" stroke="#000" stroke-width="1.8"/>
<polygon points="762.65,1368.60 762.65,1390.80 759.95,1390.80 759.95,1373.50 754.15,1376.50 754.15,1374.20 759.65,1368.80" fill="#000"/>
<text x="776.10" y="1390.80" font-size="31.5" text-anchor="middle" stroke="#000" stroke-width="0.4">3</text>
<circle cx="276" cy="1573.2" r="23.3" fill="#fff" stroke="#000" stroke-width="1.8"/>
<polygon points="269.85,1561.80 269.85,1584.00 267.15,1584.00 267.15,1566.70 261.35,1569.70 261.35,1567.40 266.85,1562.00" fill="#000"/>
<text x="283.30" y="1584.00" font-size="31.5" text-anchor="middle" stroke="#000" stroke-width="0.4">4</text>
<circle cx="204" cy="1434" r="23.3" fill="#fff" stroke="#000" stroke-width="1.8"/>
<polygon points="197.85,1422.60 197.85,1444.80 195.15,1444.80 195.15,1427.50 189.35,1430.50 189.35,1428.20 194.85,1422.80" fill="#000"/>
<text x="211.30" y="1444.80" font-size="31.5" text-anchor="middle" stroke="#000" stroke-width="0.4">5</text>
<circle cx="208" cy="1116" r="23.3" fill="#fff" stroke="#000" stroke-width="1.8"/>
<polygon points="201.85,1104.60 201.85,1126.80 199.15,1126.80 199.15,1109.50 193.35,1112.50 193.35,1110.20 198.85,1104.80" fill="#000"/>
<text x="215.30" y="1126.80" font-size="31.5" text-anchor="middle" stroke="#000" stroke-width="0.4">6</text>
<circle cx="604.8" cy="1046.8" r="23.3" fill="#fff" stroke="#000" stroke-width="1.8"/>
<polygon points="598.65,1035.40 598.65,1057.60 595.95,1057.60 595.95,1040.30 590.15,1043.30 590.15,1041.00 595.65,1035.60" fill="#000"/>
<text x="612.10" y="1057.60" font-size="31.5" text-anchor="middle" stroke="#000" stroke-width="0.4">7</text>
<circle cx="498" cy="1072.5" r="23.3" fill="#fff" stroke="#000" stroke-width="1.8"/>
<polygon points="491.85,1061.10 491.85,1083.30 489.15,1083.30 489.15,1066.00 483.35,1069.00 483.35,1066.70 488.85,1061.30" fill="#000"/>
<text x="505.30" y="1083.30" font-size="31.5" text-anchor="middle" stroke="#000" stroke-width="0.4">8</text>
<circle cx="1218.6" cy="1200.6" r="23.3" fill="#fff" stroke="#000" stroke-width="1.8"/>
<polygon points="1212.45,1189.20 1212.45,1211.40 1209.75,1211.40 1209.75,1194.10 1203.95,1197.10 1203.95,1194.80 1209.45,1189.40" fill="#000"/>
<text x="1225.90" y="1211.40" font-size="31.5" text-anchor="middle" stroke="#000" stroke-width="0.4">9</text>
<path transform="translate(470 820) scale(0.200000)" d="M1080,625 L1190,790 M135,265 L615,310 L795,600" fill="none" stroke="#000" stroke-width="1.6" vector-effect="non-scaling-stroke" stroke-linejoin="round" stroke-linecap="round"/>
<polyline points="646,698 708,672" fill="none" stroke="#000" stroke-width="1.6" stroke-linejoin="round" stroke-linecap="round"/>
</svg></body></html>
